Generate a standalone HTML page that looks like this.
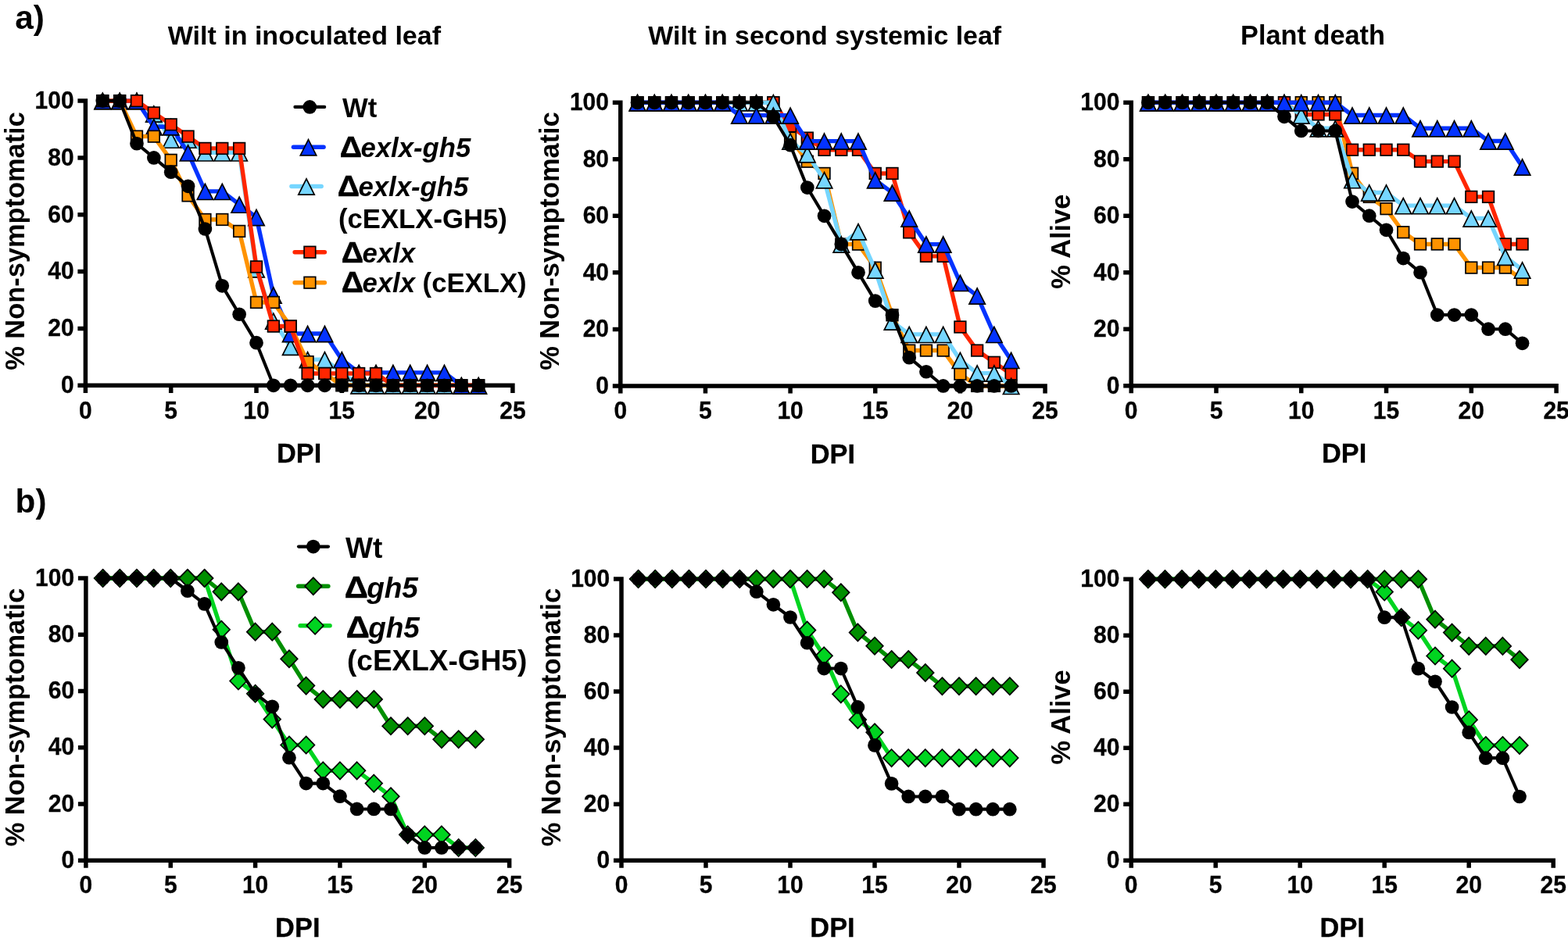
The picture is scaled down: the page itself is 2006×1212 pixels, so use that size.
<!DOCTYPE html>
<html lang="en"><head><meta charset="utf-8"><title>Wilt and survival curves</title>
<style>html,body{margin:0;padding:0;background:#fff}body{width:2006px;height:1212px;overflow:hidden}svg{display:block}text{white-space:pre}</style>
</head><body>
<svg width="2006" height="1212" viewBox="0 0 2006 1212" font-family='"Liberation Sans", sans-serif' font-weight="700" fill="#000">
<g id="a1">
<path d="M109.4 126.35V502.9M99.4 493.3H658.65M99.4 420.46H109.4M99.4 347.62H109.4M99.4 274.78H109.4M99.4 201.94H109.4M99.4 129.1H109.4M218.7 493.3V502.9M328 493.3V502.9M437.3 493.3V502.9M546.6 493.3V502.9M655.9 493.3V502.9" fill="none" stroke="#000" stroke-width="5.5"/>
<text transform="translate(94.6 503.1) scale(1 1.02)" font-size="30" text-anchor="end" stroke="#000" stroke-width="0.3">0</text>
<text transform="translate(94.6 430.26) scale(1 1.02)" font-size="30" text-anchor="end" stroke="#000" stroke-width="0.3">20</text>
<text transform="translate(94.6 357.42) scale(1 1.02)" font-size="30" text-anchor="end" stroke="#000" stroke-width="0.3">40</text>
<text transform="translate(94.6 284.58) scale(1 1.02)" font-size="30" text-anchor="end" stroke="#000" stroke-width="0.3">60</text>
<text transform="translate(94.6 211.74) scale(1 1.02)" font-size="30" text-anchor="end" stroke="#000" stroke-width="0.3">80</text>
<text transform="translate(94.6 138.9) scale(1 1.02)" font-size="30" text-anchor="end" stroke="#000" stroke-width="0.3">100</text>
<text transform="translate(109.4 535.7) scale(1 1.02)" font-size="30" text-anchor="middle" stroke="#000" stroke-width="0.3">0</text>
<text transform="translate(218.7 535.7) scale(1 1.02)" font-size="30" text-anchor="middle" stroke="#000" stroke-width="0.3">5</text>
<text transform="translate(328 535.7) scale(1 1.02)" font-size="30" text-anchor="middle" stroke="#000" stroke-width="0.3">10</text>
<text transform="translate(437.3 535.7) scale(1 1.02)" font-size="30" text-anchor="middle" stroke="#000" stroke-width="0.3">15</text>
<text transform="translate(546.6 535.7) scale(1 1.02)" font-size="30" text-anchor="middle" stroke="#000" stroke-width="0.3">20</text>
<text transform="translate(655.9 535.7) scale(1 1.02)" font-size="30" text-anchor="middle" stroke="#000" stroke-width="0.3">25</text>
<text transform="translate(382.65 591.9) scale(1 1.04)" font-size="34.4" text-anchor="middle" stroke="#000" stroke-width="0.3">DPI</text>
<text transform="translate(31 308.5) rotate(-90)" font-size="34.4" text-anchor="middle">% Non-symptomatic</text>
<g><polyline points="131.26,129.1 153.12,129.1 174.98,129.1 196.84,145.49 218.7,178.63 240.56,178.63 262.42,195.38 284.28,195.38 306.14,195.38 328,344.34 349.86,410.63 371.72,443.77 393.58,460.16 415.44,460.16 437.3,476.91 459.16,493.3 481.02,493.3 502.88,493.3 524.74,493.3 546.6,493.3 568.46,493.3 590.32,493.3 612.18,493.3" fill="none" stroke="#76D6FF" stroke-width="5.4" stroke-linejoin="round" stroke-linecap="round"/>
<path d="M131.26 119.5L141.46 139.7L121.06 139.7Z" fill="#76D6FF" stroke="#000" stroke-width="1.7"/>
<path d="M153.12 119.5L163.32 139.7L142.92 139.7Z" fill="#76D6FF" stroke="#000" stroke-width="1.7"/>
<path d="M174.98 119.5L185.18 139.7L164.78 139.7Z" fill="#76D6FF" stroke="#000" stroke-width="1.7"/>
<path d="M196.84 135.89L207.04 156.09L186.64 156.09Z" fill="#76D6FF" stroke="#000" stroke-width="1.7"/>
<path d="M218.7 169.03L228.9 189.23L208.5 189.23Z" fill="#76D6FF" stroke="#000" stroke-width="1.7"/>
<path d="M240.56 169.03L250.76 189.23L230.36 189.23Z" fill="#76D6FF" stroke="#000" stroke-width="1.7"/>
<path d="M262.42 185.78L272.62 205.98L252.22 205.98Z" fill="#76D6FF" stroke="#000" stroke-width="1.7"/>
<path d="M284.28 185.78L294.48 205.98L274.08 205.98Z" fill="#76D6FF" stroke="#000" stroke-width="1.7"/>
<path d="M306.14 185.78L316.34 205.98L295.94 205.98Z" fill="#76D6FF" stroke="#000" stroke-width="1.7"/>
<path d="M328 334.74L338.2 354.94L317.8 354.94Z" fill="#76D6FF" stroke="#000" stroke-width="1.7"/>
<path d="M349.86 401.03L360.06 421.23L339.66 421.23Z" fill="#76D6FF" stroke="#000" stroke-width="1.7"/>
<path d="M371.72 434.17L381.92 454.37L361.52 454.37Z" fill="#76D6FF" stroke="#000" stroke-width="1.7"/>
<path d="M393.58 450.56L403.78 470.76L383.38 470.76Z" fill="#76D6FF" stroke="#000" stroke-width="1.7"/>
<path d="M415.44 450.56L425.64 470.76L405.24 470.76Z" fill="#76D6FF" stroke="#000" stroke-width="1.7"/>
<path d="M437.3 467.31L447.5 487.51L427.1 487.51Z" fill="#76D6FF" stroke="#000" stroke-width="1.7"/>
<path d="M459.16 483.7L469.36 503.9L448.96 503.9Z" fill="#76D6FF" stroke="#000" stroke-width="1.7"/>
<path d="M481.02 483.7L491.22 503.9L470.82 503.9Z" fill="#76D6FF" stroke="#000" stroke-width="1.7"/>
<path d="M502.88 483.7L513.08 503.9L492.68 503.9Z" fill="#76D6FF" stroke="#000" stroke-width="1.7"/>
<path d="M524.74 483.7L534.94 503.9L514.54 503.9Z" fill="#76D6FF" stroke="#000" stroke-width="1.7"/>
<path d="M546.6 483.7L556.8 503.9L536.4 503.9Z" fill="#76D6FF" stroke="#000" stroke-width="1.7"/>
<path d="M568.46 483.7L578.66 503.9L558.26 503.9Z" fill="#76D6FF" stroke="#000" stroke-width="1.7"/>
<path d="M590.32 483.7L600.52 503.9L580.12 503.9Z" fill="#76D6FF" stroke="#000" stroke-width="1.7"/>
<path d="M612.18 483.7L622.38 503.9L601.98 503.9Z" fill="#76D6FF" stroke="#000" stroke-width="1.7"/>
</g>
<g><polyline points="131.26,129.1 153.12,129.1 174.98,129.1 196.84,162.24 218.7,162.24 240.56,195.38 262.42,244.92 284.28,244.92 306.14,261.67 328,278.06 349.86,377.48 371.72,427.02 393.58,427.02 415.44,427.02 437.3,460.16 459.16,476.91 481.02,476.91 502.88,476.91 524.74,476.91 546.6,476.91 568.46,476.91 590.32,493.3 612.18,493.3" fill="none" stroke="#0433FF" stroke-width="5.4" stroke-linejoin="round" stroke-linecap="round"/>
<path d="M131.26 119.5L141.46 139.7L121.06 139.7Z" fill="#0433FF" stroke="#000" stroke-width="1.7"/>
<path d="M153.12 119.5L163.32 139.7L142.92 139.7Z" fill="#0433FF" stroke="#000" stroke-width="1.7"/>
<path d="M174.98 119.5L185.18 139.7L164.78 139.7Z" fill="#0433FF" stroke="#000" stroke-width="1.7"/>
<path d="M196.84 152.64L207.04 172.84L186.64 172.84Z" fill="#0433FF" stroke="#000" stroke-width="1.7"/>
<path d="M218.7 152.64L228.9 172.84L208.5 172.84Z" fill="#0433FF" stroke="#000" stroke-width="1.7"/>
<path d="M240.56 185.78L250.76 205.98L230.36 205.98Z" fill="#0433FF" stroke="#000" stroke-width="1.7"/>
<path d="M262.42 235.32L272.62 255.52L252.22 255.52Z" fill="#0433FF" stroke="#000" stroke-width="1.7"/>
<path d="M284.28 235.32L294.48 255.52L274.08 255.52Z" fill="#0433FF" stroke="#000" stroke-width="1.7"/>
<path d="M306.14 252.07L316.34 272.27L295.94 272.27Z" fill="#0433FF" stroke="#000" stroke-width="1.7"/>
<path d="M328 268.46L338.2 288.66L317.8 288.66Z" fill="#0433FF" stroke="#000" stroke-width="1.7"/>
<path d="M349.86 367.88L360.06 388.08L339.66 388.08Z" fill="#0433FF" stroke="#000" stroke-width="1.7"/>
<path d="M371.72 417.42L381.92 437.62L361.52 437.62Z" fill="#0433FF" stroke="#000" stroke-width="1.7"/>
<path d="M393.58 417.42L403.78 437.62L383.38 437.62Z" fill="#0433FF" stroke="#000" stroke-width="1.7"/>
<path d="M415.44 417.42L425.64 437.62L405.24 437.62Z" fill="#0433FF" stroke="#000" stroke-width="1.7"/>
<path d="M437.3 450.56L447.5 470.76L427.1 470.76Z" fill="#0433FF" stroke="#000" stroke-width="1.7"/>
<path d="M459.16 467.31L469.36 487.51L448.96 487.51Z" fill="#0433FF" stroke="#000" stroke-width="1.7"/>
<path d="M481.02 467.31L491.22 487.51L470.82 487.51Z" fill="#0433FF" stroke="#000" stroke-width="1.7"/>
<path d="M502.88 467.31L513.08 487.51L492.68 487.51Z" fill="#0433FF" stroke="#000" stroke-width="1.7"/>
<path d="M524.74 467.31L534.94 487.51L514.54 487.51Z" fill="#0433FF" stroke="#000" stroke-width="1.7"/>
<path d="M546.6 467.31L556.8 487.51L536.4 487.51Z" fill="#0433FF" stroke="#000" stroke-width="1.7"/>
<path d="M568.46 467.31L578.66 487.51L558.26 487.51Z" fill="#0433FF" stroke="#000" stroke-width="1.7"/>
<path d="M590.32 483.7L600.52 503.9L580.12 503.9Z" fill="#0433FF" stroke="#000" stroke-width="1.7"/>
<path d="M612.18 483.7L622.38 503.9L601.98 503.9Z" fill="#0433FF" stroke="#000" stroke-width="1.7"/>
</g>
<g><polyline points="131.26,129.1 153.12,129.1 174.98,174.62 196.84,174.62 218.7,204.85 240.56,250.38 262.42,280.97 284.28,280.97 306.14,295.9 328,386.95 349.86,386.95 371.72,417.55 393.58,463.07 415.44,478 437.3,493.3 459.16,493.3 481.02,493.3 502.88,493.3 524.74,493.3 546.6,493.3 568.46,493.3 590.32,493.3 612.18,493.3" fill="none" stroke="#FF9300" stroke-width="5.4" stroke-linejoin="round" stroke-linecap="round"/>
<rect x="123.96" y="121.8" width="14.6" height="14.6" fill="#FF9300" stroke="#000" stroke-width="1.7"/>
<rect x="145.82" y="121.8" width="14.6" height="14.6" fill="#FF9300" stroke="#000" stroke-width="1.7"/>
<rect x="167.68" y="167.32" width="14.6" height="14.6" fill="#FF9300" stroke="#000" stroke-width="1.7"/>
<rect x="189.54" y="167.32" width="14.6" height="14.6" fill="#FF9300" stroke="#000" stroke-width="1.7"/>
<rect x="211.4" y="197.55" width="14.6" height="14.6" fill="#FF9300" stroke="#000" stroke-width="1.7"/>
<rect x="233.26" y="243.08" width="14.6" height="14.6" fill="#FF9300" stroke="#000" stroke-width="1.7"/>
<rect x="255.12" y="273.67" width="14.6" height="14.6" fill="#FF9300" stroke="#000" stroke-width="1.7"/>
<rect x="276.98" y="273.67" width="14.6" height="14.6" fill="#FF9300" stroke="#000" stroke-width="1.7"/>
<rect x="298.84" y="288.6" width="14.6" height="14.6" fill="#FF9300" stroke="#000" stroke-width="1.7"/>
<rect x="320.7" y="379.65" width="14.6" height="14.6" fill="#FF9300" stroke="#000" stroke-width="1.7"/>
<rect x="342.56" y="379.65" width="14.6" height="14.6" fill="#FF9300" stroke="#000" stroke-width="1.7"/>
<rect x="364.42" y="410.25" width="14.6" height="14.6" fill="#FF9300" stroke="#000" stroke-width="1.7"/>
<rect x="386.28" y="455.77" width="14.6" height="14.6" fill="#FF9300" stroke="#000" stroke-width="1.7"/>
<rect x="408.14" y="470.7" width="14.6" height="14.6" fill="#FF9300" stroke="#000" stroke-width="1.7"/>
<rect x="430" y="486" width="14.6" height="14.6" fill="#FF9300" stroke="#000" stroke-width="1.7"/>
<rect x="451.86" y="486" width="14.6" height="14.6" fill="#FF9300" stroke="#000" stroke-width="1.7"/>
<rect x="473.72" y="486" width="14.6" height="14.6" fill="#FF9300" stroke="#000" stroke-width="1.7"/>
<rect x="495.58" y="486" width="14.6" height="14.6" fill="#FF9300" stroke="#000" stroke-width="1.7"/>
<rect x="517.44" y="486" width="14.6" height="14.6" fill="#FF9300" stroke="#000" stroke-width="1.7"/>
<rect x="539.3" y="486" width="14.6" height="14.6" fill="#FF9300" stroke="#000" stroke-width="1.7"/>
<rect x="561.16" y="486" width="14.6" height="14.6" fill="#FF9300" stroke="#000" stroke-width="1.7"/>
<rect x="583.02" y="486" width="14.6" height="14.6" fill="#FF9300" stroke="#000" stroke-width="1.7"/>
<rect x="604.88" y="486" width="14.6" height="14.6" fill="#FF9300" stroke="#000" stroke-width="1.7"/>
</g>
<g><polyline points="131.26,129.1 153.12,129.1 174.98,129.1 196.84,144.4 218.7,159.33 240.56,174.62 262.42,189.92 284.28,189.92 306.14,189.92 328,341.43 349.86,417.55 371.72,417.55 393.58,478 415.44,478 437.3,478 459.16,478 481.02,478 502.88,493.3 524.74,493.3 546.6,493.3 568.46,493.3 590.32,493.3 612.18,493.3" fill="none" stroke="#FF2600" stroke-width="5.4" stroke-linejoin="round" stroke-linecap="round"/>
<rect x="123.96" y="121.8" width="14.6" height="14.6" fill="#FF2600" stroke="#000" stroke-width="1.7"/>
<rect x="145.82" y="121.8" width="14.6" height="14.6" fill="#FF2600" stroke="#000" stroke-width="1.7"/>
<rect x="167.68" y="121.8" width="14.6" height="14.6" fill="#FF2600" stroke="#000" stroke-width="1.7"/>
<rect x="189.54" y="137.1" width="14.6" height="14.6" fill="#FF2600" stroke="#000" stroke-width="1.7"/>
<rect x="211.4" y="152.03" width="14.6" height="14.6" fill="#FF2600" stroke="#000" stroke-width="1.7"/>
<rect x="233.26" y="167.32" width="14.6" height="14.6" fill="#FF2600" stroke="#000" stroke-width="1.7"/>
<rect x="255.12" y="182.62" width="14.6" height="14.6" fill="#FF2600" stroke="#000" stroke-width="1.7"/>
<rect x="276.98" y="182.62" width="14.6" height="14.6" fill="#FF2600" stroke="#000" stroke-width="1.7"/>
<rect x="298.84" y="182.62" width="14.6" height="14.6" fill="#FF2600" stroke="#000" stroke-width="1.7"/>
<rect x="320.7" y="334.13" width="14.6" height="14.6" fill="#FF2600" stroke="#000" stroke-width="1.7"/>
<rect x="342.56" y="410.25" width="14.6" height="14.6" fill="#FF2600" stroke="#000" stroke-width="1.7"/>
<rect x="364.42" y="410.25" width="14.6" height="14.6" fill="#FF2600" stroke="#000" stroke-width="1.7"/>
<rect x="386.28" y="470.7" width="14.6" height="14.6" fill="#FF2600" stroke="#000" stroke-width="1.7"/>
<rect x="408.14" y="470.7" width="14.6" height="14.6" fill="#FF2600" stroke="#000" stroke-width="1.7"/>
<rect x="430" y="470.7" width="14.6" height="14.6" fill="#FF2600" stroke="#000" stroke-width="1.7"/>
<rect x="451.86" y="470.7" width="14.6" height="14.6" fill="#FF2600" stroke="#000" stroke-width="1.7"/>
<rect x="473.72" y="470.7" width="14.6" height="14.6" fill="#FF2600" stroke="#000" stroke-width="1.7"/>
<rect x="495.58" y="486" width="14.6" height="14.6" fill="#FF2600" stroke="#000" stroke-width="1.7"/>
<rect x="517.44" y="486" width="14.6" height="14.6" fill="#FF2600" stroke="#000" stroke-width="1.7"/>
<rect x="539.3" y="486" width="14.6" height="14.6" fill="#FF2600" stroke="#000" stroke-width="1.7"/>
<rect x="561.16" y="486" width="14.6" height="14.6" fill="#FF2600" stroke="#000" stroke-width="1.7"/>
<rect x="583.02" y="486" width="14.6" height="14.6" fill="#FF2600" stroke="#000" stroke-width="1.7"/>
<rect x="604.88" y="486" width="14.6" height="14.6" fill="#FF2600" stroke="#000" stroke-width="1.7"/>
</g>
<g><polyline points="131.26,129.1 153.12,129.1 174.98,183.73 196.84,201.94 218.7,220.15 240.56,238.36 262.42,292.99 284.28,365.83 306.14,402.25 328,438.67 349.86,493.3 371.72,493.3 393.58,493.3 415.44,493.3 437.3,493.3 459.16,493.3 481.02,493.3 502.88,493.3 524.74,493.3 546.6,493.3 568.46,493.3 590.32,493.3 612.18,493.3" fill="none" stroke="#000000" stroke-width="4.1" stroke-linejoin="round" stroke-linecap="round"/>
<circle cx="131.26" cy="129.1" r="8.85" fill="#000"/>
<circle cx="153.12" cy="129.1" r="8.85" fill="#000"/>
<circle cx="174.98" cy="183.73" r="8.85" fill="#000"/>
<circle cx="196.84" cy="201.94" r="8.85" fill="#000"/>
<circle cx="218.7" cy="220.15" r="8.85" fill="#000"/>
<circle cx="240.56" cy="238.36" r="8.85" fill="#000"/>
<circle cx="262.42" cy="292.99" r="8.85" fill="#000"/>
<circle cx="284.28" cy="365.83" r="8.85" fill="#000"/>
<circle cx="306.14" cy="402.25" r="8.85" fill="#000"/>
<circle cx="328" cy="438.67" r="8.85" fill="#000"/>
<circle cx="349.86" cy="493.3" r="8.85" fill="#000"/>
<circle cx="371.72" cy="493.3" r="8.85" fill="#000"/>
<circle cx="393.58" cy="493.3" r="8.85" fill="#000"/>
<circle cx="415.44" cy="493.3" r="8.85" fill="#000"/>
<circle cx="437.3" cy="493.3" r="8.85" fill="#000"/>
<circle cx="459.16" cy="493.3" r="8.85" fill="#000"/>
<circle cx="481.02" cy="493.3" r="8.85" fill="#000"/>
<circle cx="502.88" cy="493.3" r="8.85" fill="#000"/>
<circle cx="524.74" cy="493.3" r="8.85" fill="#000"/>
<circle cx="546.6" cy="493.3" r="8.85" fill="#000"/>
<circle cx="568.46" cy="493.3" r="8.85" fill="#000"/>
<circle cx="590.32" cy="493.3" r="8.85" fill="#000"/>
<circle cx="612.18" cy="493.3" r="8.85" fill="#000"/>
</g>
</g>
<g id="a2">
<path d="M793.8 128.55V503.5M783.8 493.9H1339.8M783.8 421.38H793.8M783.8 348.86H793.8M783.8 276.34H793.8M783.8 203.82H793.8M783.8 131.3H793.8M902.45 493.9V503.5M1011.1 493.9V503.5M1119.75 493.9V503.5M1228.4 493.9V503.5M1337.05 493.9V503.5" fill="none" stroke="#000" stroke-width="5.5"/>
<text transform="translate(779 503.7) scale(1 1.02)" font-size="30" text-anchor="end" stroke="#000" stroke-width="0.3">0</text>
<text transform="translate(779 431.18) scale(1 1.02)" font-size="30" text-anchor="end" stroke="#000" stroke-width="0.3">20</text>
<text transform="translate(779 358.66) scale(1 1.02)" font-size="30" text-anchor="end" stroke="#000" stroke-width="0.3">40</text>
<text transform="translate(779 286.14) scale(1 1.02)" font-size="30" text-anchor="end" stroke="#000" stroke-width="0.3">60</text>
<text transform="translate(779 213.62) scale(1 1.02)" font-size="30" text-anchor="end" stroke="#000" stroke-width="0.3">80</text>
<text transform="translate(779 141.1) scale(1 1.02)" font-size="30" text-anchor="end" stroke="#000" stroke-width="0.3">100</text>
<text transform="translate(793.8 536.3) scale(1 1.02)" font-size="30" text-anchor="middle" stroke="#000" stroke-width="0.3">0</text>
<text transform="translate(902.45 536.3) scale(1 1.02)" font-size="30" text-anchor="middle" stroke="#000" stroke-width="0.3">5</text>
<text transform="translate(1011.1 536.3) scale(1 1.02)" font-size="30" text-anchor="middle" stroke="#000" stroke-width="0.3">10</text>
<text transform="translate(1119.75 536.3) scale(1 1.02)" font-size="30" text-anchor="middle" stroke="#000" stroke-width="0.3">15</text>
<text transform="translate(1228.4 536.3) scale(1 1.02)" font-size="30" text-anchor="middle" stroke="#000" stroke-width="0.3">20</text>
<text transform="translate(1337.05 536.3) scale(1 1.02)" font-size="30" text-anchor="middle" stroke="#000" stroke-width="0.3">25</text>
<text transform="translate(1065.42 592.5) scale(1 1.04)" font-size="34.4" text-anchor="middle" stroke="#000" stroke-width="0.3">DPI</text>
<text transform="translate(715.4 308.5) rotate(-90)" font-size="34.4" text-anchor="middle">% Non-symptomatic</text>
<g><polyline points="815.53,131.3 837.26,131.3 858.99,131.3 880.72,131.3 902.45,131.3 924.18,131.3 945.91,131.3 967.64,131.3 989.37,131.3 1011.1,176.62 1032.83,206.72 1054.56,221.95 1076.29,312.6 1098.02,312.6 1119.75,342.7 1141.48,403.25 1163.21,448.57 1184.94,448.57 1206.67,448.57 1228.4,478.67 1250.13,493.9 1271.86,493.9 1293.59,493.9" fill="none" stroke="#FF9300" stroke-width="5.4" stroke-linejoin="round" stroke-linecap="round"/>
<rect x="808.23" y="124" width="14.6" height="14.6" fill="#FF9300" stroke="#000" stroke-width="1.7"/>
<rect x="829.96" y="124" width="14.6" height="14.6" fill="#FF9300" stroke="#000" stroke-width="1.7"/>
<rect x="851.69" y="124" width="14.6" height="14.6" fill="#FF9300" stroke="#000" stroke-width="1.7"/>
<rect x="873.42" y="124" width="14.6" height="14.6" fill="#FF9300" stroke="#000" stroke-width="1.7"/>
<rect x="895.15" y="124" width="14.6" height="14.6" fill="#FF9300" stroke="#000" stroke-width="1.7"/>
<rect x="916.88" y="124" width="14.6" height="14.6" fill="#FF9300" stroke="#000" stroke-width="1.7"/>
<rect x="938.61" y="124" width="14.6" height="14.6" fill="#FF9300" stroke="#000" stroke-width="1.7"/>
<rect x="960.34" y="124" width="14.6" height="14.6" fill="#FF9300" stroke="#000" stroke-width="1.7"/>
<rect x="982.07" y="124" width="14.6" height="14.6" fill="#FF9300" stroke="#000" stroke-width="1.7"/>
<rect x="1003.8" y="169.32" width="14.6" height="14.6" fill="#FF9300" stroke="#000" stroke-width="1.7"/>
<rect x="1025.53" y="199.42" width="14.6" height="14.6" fill="#FF9300" stroke="#000" stroke-width="1.7"/>
<rect x="1047.26" y="214.65" width="14.6" height="14.6" fill="#FF9300" stroke="#000" stroke-width="1.7"/>
<rect x="1068.99" y="305.3" width="14.6" height="14.6" fill="#FF9300" stroke="#000" stroke-width="1.7"/>
<rect x="1090.72" y="305.3" width="14.6" height="14.6" fill="#FF9300" stroke="#000" stroke-width="1.7"/>
<rect x="1112.45" y="335.4" width="14.6" height="14.6" fill="#FF9300" stroke="#000" stroke-width="1.7"/>
<rect x="1134.18" y="395.95" width="14.6" height="14.6" fill="#FF9300" stroke="#000" stroke-width="1.7"/>
<rect x="1155.91" y="441.27" width="14.6" height="14.6" fill="#FF9300" stroke="#000" stroke-width="1.7"/>
<rect x="1177.64" y="441.27" width="14.6" height="14.6" fill="#FF9300" stroke="#000" stroke-width="1.7"/>
<rect x="1199.37" y="441.27" width="14.6" height="14.6" fill="#FF9300" stroke="#000" stroke-width="1.7"/>
<rect x="1221.1" y="471.37" width="14.6" height="14.6" fill="#FF9300" stroke="#000" stroke-width="1.7"/>
<rect x="1242.83" y="486.6" width="14.6" height="14.6" fill="#FF9300" stroke="#000" stroke-width="1.7"/>
<rect x="1264.56" y="486.6" width="14.6" height="14.6" fill="#FF9300" stroke="#000" stroke-width="1.7"/>
<rect x="1286.29" y="486.6" width="14.6" height="14.6" fill="#FF9300" stroke="#000" stroke-width="1.7"/>
</g>
<g><polyline points="815.53,131.3 837.26,131.3 858.99,131.3 880.72,131.3 902.45,131.3 924.18,131.3 945.91,131.3 967.64,131.3 989.37,131.3 1011.1,161.4 1032.83,176.62 1054.56,191.85 1076.29,191.85 1098.02,191.85 1119.75,221.95 1141.48,221.95 1163.21,297.37 1184.94,327.83 1206.67,327.83 1228.4,418.48 1250.13,448.57 1271.86,463.8 1293.59,478.67" fill="none" stroke="#FF2600" stroke-width="5.4" stroke-linejoin="round" stroke-linecap="round"/>
<rect x="808.23" y="124" width="14.6" height="14.6" fill="#FF2600" stroke="#000" stroke-width="1.7"/>
<rect x="829.96" y="124" width="14.6" height="14.6" fill="#FF2600" stroke="#000" stroke-width="1.7"/>
<rect x="851.69" y="124" width="14.6" height="14.6" fill="#FF2600" stroke="#000" stroke-width="1.7"/>
<rect x="873.42" y="124" width="14.6" height="14.6" fill="#FF2600" stroke="#000" stroke-width="1.7"/>
<rect x="895.15" y="124" width="14.6" height="14.6" fill="#FF2600" stroke="#000" stroke-width="1.7"/>
<rect x="916.88" y="124" width="14.6" height="14.6" fill="#FF2600" stroke="#000" stroke-width="1.7"/>
<rect x="938.61" y="124" width="14.6" height="14.6" fill="#FF2600" stroke="#000" stroke-width="1.7"/>
<rect x="960.34" y="124" width="14.6" height="14.6" fill="#FF2600" stroke="#000" stroke-width="1.7"/>
<rect x="982.07" y="124" width="14.6" height="14.6" fill="#FF2600" stroke="#000" stroke-width="1.7"/>
<rect x="1003.8" y="154.1" width="14.6" height="14.6" fill="#FF2600" stroke="#000" stroke-width="1.7"/>
<rect x="1025.53" y="169.32" width="14.6" height="14.6" fill="#FF2600" stroke="#000" stroke-width="1.7"/>
<rect x="1047.26" y="184.55" width="14.6" height="14.6" fill="#FF2600" stroke="#000" stroke-width="1.7"/>
<rect x="1068.99" y="184.55" width="14.6" height="14.6" fill="#FF2600" stroke="#000" stroke-width="1.7"/>
<rect x="1090.72" y="184.55" width="14.6" height="14.6" fill="#FF2600" stroke="#000" stroke-width="1.7"/>
<rect x="1112.45" y="214.65" width="14.6" height="14.6" fill="#FF2600" stroke="#000" stroke-width="1.7"/>
<rect x="1134.18" y="214.65" width="14.6" height="14.6" fill="#FF2600" stroke="#000" stroke-width="1.7"/>
<rect x="1155.91" y="290.07" width="14.6" height="14.6" fill="#FF2600" stroke="#000" stroke-width="1.7"/>
<rect x="1177.64" y="320.53" width="14.6" height="14.6" fill="#FF2600" stroke="#000" stroke-width="1.7"/>
<rect x="1199.37" y="320.53" width="14.6" height="14.6" fill="#FF2600" stroke="#000" stroke-width="1.7"/>
<rect x="1221.1" y="411.18" width="14.6" height="14.6" fill="#FF2600" stroke="#000" stroke-width="1.7"/>
<rect x="1242.83" y="441.27" width="14.6" height="14.6" fill="#FF2600" stroke="#000" stroke-width="1.7"/>
<rect x="1264.56" y="456.5" width="14.6" height="14.6" fill="#FF2600" stroke="#000" stroke-width="1.7"/>
<rect x="1286.29" y="471.37" width="14.6" height="14.6" fill="#FF2600" stroke="#000" stroke-width="1.7"/>
</g>
<g><polyline points="815.53,131.3 837.26,131.3 858.99,131.3 880.72,131.3 902.45,131.3 924.18,131.3 945.91,131.3 967.64,131.3 989.37,131.3 1011.1,180.61 1032.83,197.29 1054.56,230.29 1076.29,312.6 1098.02,296.28 1119.75,345.6 1141.48,411.59 1163.21,427.91 1184.94,427.91 1206.67,427.91 1228.4,460.9 1250.13,477.58 1271.86,477.58 1293.59,493.9" fill="none" stroke="#76D6FF" stroke-width="5.4" stroke-linejoin="round" stroke-linecap="round"/>
<path d="M815.53 121.7L825.73 141.9L805.33 141.9Z" fill="#76D6FF" stroke="#000" stroke-width="1.7"/>
<path d="M837.26 121.7L847.46 141.9L827.06 141.9Z" fill="#76D6FF" stroke="#000" stroke-width="1.7"/>
<path d="M858.99 121.7L869.19 141.9L848.79 141.9Z" fill="#76D6FF" stroke="#000" stroke-width="1.7"/>
<path d="M880.72 121.7L890.92 141.9L870.52 141.9Z" fill="#76D6FF" stroke="#000" stroke-width="1.7"/>
<path d="M902.45 121.7L912.65 141.9L892.25 141.9Z" fill="#76D6FF" stroke="#000" stroke-width="1.7"/>
<path d="M924.18 121.7L934.38 141.9L913.98 141.9Z" fill="#76D6FF" stroke="#000" stroke-width="1.7"/>
<path d="M945.91 121.7L956.11 141.9L935.71 141.9Z" fill="#76D6FF" stroke="#000" stroke-width="1.7"/>
<path d="M967.64 121.7L977.84 141.9L957.44 141.9Z" fill="#76D6FF" stroke="#000" stroke-width="1.7"/>
<path d="M989.37 121.7L999.57 141.9L979.17 141.9Z" fill="#76D6FF" stroke="#000" stroke-width="1.7"/>
<path d="M1011.1 171.01L1021.3 191.21L1000.9 191.21Z" fill="#76D6FF" stroke="#000" stroke-width="1.7"/>
<path d="M1032.83 187.69L1043.03 207.89L1022.63 207.89Z" fill="#76D6FF" stroke="#000" stroke-width="1.7"/>
<path d="M1054.56 220.69L1064.76 240.89L1044.36 240.89Z" fill="#76D6FF" stroke="#000" stroke-width="1.7"/>
<path d="M1076.29 303L1086.49 323.2L1066.09 323.2Z" fill="#76D6FF" stroke="#000" stroke-width="1.7"/>
<path d="M1098.02 286.68L1108.22 306.88L1087.82 306.88Z" fill="#76D6FF" stroke="#000" stroke-width="1.7"/>
<path d="M1119.75 336L1129.95 356.2L1109.55 356.2Z" fill="#76D6FF" stroke="#000" stroke-width="1.7"/>
<path d="M1141.48 401.99L1151.68 422.19L1131.28 422.19Z" fill="#76D6FF" stroke="#000" stroke-width="1.7"/>
<path d="M1163.21 418.31L1173.41 438.51L1153.01 438.51Z" fill="#76D6FF" stroke="#000" stroke-width="1.7"/>
<path d="M1184.94 418.31L1195.14 438.51L1174.74 438.51Z" fill="#76D6FF" stroke="#000" stroke-width="1.7"/>
<path d="M1206.67 418.31L1216.87 438.51L1196.47 438.51Z" fill="#76D6FF" stroke="#000" stroke-width="1.7"/>
<path d="M1228.4 451.3L1238.6 471.5L1218.2 471.5Z" fill="#76D6FF" stroke="#000" stroke-width="1.7"/>
<path d="M1250.13 467.98L1260.33 488.18L1239.93 488.18Z" fill="#76D6FF" stroke="#000" stroke-width="1.7"/>
<path d="M1271.86 467.98L1282.06 488.18L1261.66 488.18Z" fill="#76D6FF" stroke="#000" stroke-width="1.7"/>
<path d="M1293.59 484.3L1303.79 504.5L1283.39 504.5Z" fill="#76D6FF" stroke="#000" stroke-width="1.7"/>
</g>
<g><polyline points="815.53,131.3 837.26,131.3 858.99,131.3 880.72,131.3 902.45,131.3 924.18,131.3 945.91,147.62 967.64,147.62 989.37,147.62 1011.1,147.62 1032.83,180.61 1054.56,180.61 1076.29,180.61 1098.02,180.61 1119.75,230.29 1141.48,246.61 1163.21,279.6 1184.94,312.6 1206.67,312.6 1228.4,361.91 1250.13,378.59 1271.86,427.91 1293.59,460.9" fill="none" stroke="#0433FF" stroke-width="5.4" stroke-linejoin="round" stroke-linecap="round"/>
<path d="M815.53 121.7L825.73 141.9L805.33 141.9Z" fill="#0433FF" stroke="#000" stroke-width="1.7"/>
<path d="M837.26 121.7L847.46 141.9L827.06 141.9Z" fill="#0433FF" stroke="#000" stroke-width="1.7"/>
<path d="M858.99 121.7L869.19 141.9L848.79 141.9Z" fill="#0433FF" stroke="#000" stroke-width="1.7"/>
<path d="M880.72 121.7L890.92 141.9L870.52 141.9Z" fill="#0433FF" stroke="#000" stroke-width="1.7"/>
<path d="M902.45 121.7L912.65 141.9L892.25 141.9Z" fill="#0433FF" stroke="#000" stroke-width="1.7"/>
<path d="M924.18 121.7L934.38 141.9L913.98 141.9Z" fill="#0433FF" stroke="#000" stroke-width="1.7"/>
<path d="M945.91 138.02L956.11 158.22L935.71 158.22Z" fill="#0433FF" stroke="#000" stroke-width="1.7"/>
<path d="M967.64 138.02L977.84 158.22L957.44 158.22Z" fill="#0433FF" stroke="#000" stroke-width="1.7"/>
<path d="M989.37 138.02L999.57 158.22L979.17 158.22Z" fill="#0433FF" stroke="#000" stroke-width="1.7"/>
<path d="M1011.1 138.02L1021.3 158.22L1000.9 158.22Z" fill="#0433FF" stroke="#000" stroke-width="1.7"/>
<path d="M1032.83 171.01L1043.03 191.21L1022.63 191.21Z" fill="#0433FF" stroke="#000" stroke-width="1.7"/>
<path d="M1054.56 171.01L1064.76 191.21L1044.36 191.21Z" fill="#0433FF" stroke="#000" stroke-width="1.7"/>
<path d="M1076.29 171.01L1086.49 191.21L1066.09 191.21Z" fill="#0433FF" stroke="#000" stroke-width="1.7"/>
<path d="M1098.02 171.01L1108.22 191.21L1087.82 191.21Z" fill="#0433FF" stroke="#000" stroke-width="1.7"/>
<path d="M1119.75 220.69L1129.95 240.89L1109.55 240.89Z" fill="#0433FF" stroke="#000" stroke-width="1.7"/>
<path d="M1141.48 237.01L1151.68 257.21L1131.28 257.21Z" fill="#0433FF" stroke="#000" stroke-width="1.7"/>
<path d="M1163.21 270L1173.41 290.2L1153.01 290.2Z" fill="#0433FF" stroke="#000" stroke-width="1.7"/>
<path d="M1184.94 303L1195.14 323.2L1174.74 323.2Z" fill="#0433FF" stroke="#000" stroke-width="1.7"/>
<path d="M1206.67 303L1216.87 323.2L1196.47 323.2Z" fill="#0433FF" stroke="#000" stroke-width="1.7"/>
<path d="M1228.4 352.31L1238.6 372.51L1218.2 372.51Z" fill="#0433FF" stroke="#000" stroke-width="1.7"/>
<path d="M1250.13 368.99L1260.33 389.19L1239.93 389.19Z" fill="#0433FF" stroke="#000" stroke-width="1.7"/>
<path d="M1271.86 418.31L1282.06 438.51L1261.66 438.51Z" fill="#0433FF" stroke="#000" stroke-width="1.7"/>
<path d="M1293.59 451.3L1303.79 471.5L1283.39 471.5Z" fill="#0433FF" stroke="#000" stroke-width="1.7"/>
</g>
<g><polyline points="815.53,131.3 837.26,131.3 858.99,131.3 880.72,131.3 902.45,131.3 924.18,131.3 945.91,131.3 967.64,131.3 989.37,149.43 1011.1,185.69 1032.83,240.08 1054.56,276.34 1076.29,312.6 1098.02,348.86 1119.75,385.12 1141.48,403.25 1163.21,457.64 1184.94,475.77 1206.67,493.9 1228.4,493.9 1250.13,493.9 1271.86,493.9 1293.59,493.9" fill="none" stroke="#000000" stroke-width="4.1" stroke-linejoin="round" stroke-linecap="round"/>
<circle cx="815.53" cy="131.3" r="8.85" fill="#000"/>
<circle cx="837.26" cy="131.3" r="8.85" fill="#000"/>
<circle cx="858.99" cy="131.3" r="8.85" fill="#000"/>
<circle cx="880.72" cy="131.3" r="8.85" fill="#000"/>
<circle cx="902.45" cy="131.3" r="8.85" fill="#000"/>
<circle cx="924.18" cy="131.3" r="8.85" fill="#000"/>
<circle cx="945.91" cy="131.3" r="8.85" fill="#000"/>
<circle cx="967.64" cy="131.3" r="8.85" fill="#000"/>
<circle cx="989.37" cy="149.43" r="8.85" fill="#000"/>
<circle cx="1011.1" cy="185.69" r="8.85" fill="#000"/>
<circle cx="1032.83" cy="240.08" r="8.85" fill="#000"/>
<circle cx="1054.56" cy="276.34" r="8.85" fill="#000"/>
<circle cx="1076.29" cy="312.6" r="8.85" fill="#000"/>
<circle cx="1098.02" cy="348.86" r="8.85" fill="#000"/>
<circle cx="1119.75" cy="385.12" r="8.85" fill="#000"/>
<circle cx="1141.48" cy="403.25" r="8.85" fill="#000"/>
<circle cx="1163.21" cy="457.64" r="8.85" fill="#000"/>
<circle cx="1184.94" cy="475.77" r="8.85" fill="#000"/>
<circle cx="1206.67" cy="493.9" r="8.85" fill="#000"/>
<circle cx="1228.4" cy="493.9" r="8.85" fill="#000"/>
<circle cx="1250.13" cy="493.9" r="8.85" fill="#000"/>
<circle cx="1271.86" cy="493.9" r="8.85" fill="#000"/>
<circle cx="1293.59" cy="493.9" r="8.85" fill="#000"/>
</g>
</g>
<g id="a3">
<path d="M1447.2 128.45V503.3M1437.2 493.7H1993.83M1437.2 421.2H1447.2M1437.2 348.7H1447.2M1437.2 276.2H1447.2M1437.2 203.7H1447.2M1437.2 131.2H1447.2M1555.98 493.7V503.3M1664.75 493.7V503.3M1773.53 493.7V503.3M1882.3 493.7V503.3M1991.08 493.7V503.3" fill="none" stroke="#000" stroke-width="5.5"/>
<text transform="translate(1432.4 503.5) scale(1 1.02)" font-size="30" text-anchor="end" stroke="#000" stroke-width="0.3">0</text>
<text transform="translate(1432.4 431) scale(1 1.02)" font-size="30" text-anchor="end" stroke="#000" stroke-width="0.3">20</text>
<text transform="translate(1432.4 358.5) scale(1 1.02)" font-size="30" text-anchor="end" stroke="#000" stroke-width="0.3">40</text>
<text transform="translate(1432.4 286) scale(1 1.02)" font-size="30" text-anchor="end" stroke="#000" stroke-width="0.3">60</text>
<text transform="translate(1432.4 213.5) scale(1 1.02)" font-size="30" text-anchor="end" stroke="#000" stroke-width="0.3">80</text>
<text transform="translate(1432.4 141) scale(1 1.02)" font-size="30" text-anchor="end" stroke="#000" stroke-width="0.3">100</text>
<text transform="translate(1447.2 536.1) scale(1 1.02)" font-size="30" text-anchor="middle" stroke="#000" stroke-width="0.3">0</text>
<text transform="translate(1555.98 536.1) scale(1 1.02)" font-size="30" text-anchor="middle" stroke="#000" stroke-width="0.3">5</text>
<text transform="translate(1664.75 536.1) scale(1 1.02)" font-size="30" text-anchor="middle" stroke="#000" stroke-width="0.3">10</text>
<text transform="translate(1773.53 536.1) scale(1 1.02)" font-size="30" text-anchor="middle" stroke="#000" stroke-width="0.3">15</text>
<text transform="translate(1882.3 536.1) scale(1 1.02)" font-size="30" text-anchor="middle" stroke="#000" stroke-width="0.3">20</text>
<text transform="translate(1991.08 536.1) scale(1 1.02)" font-size="30" text-anchor="middle" stroke="#000" stroke-width="0.3">25</text>
<text transform="translate(1719.64 592.3) scale(1 1.04)" font-size="34.4" text-anchor="middle" stroke="#000" stroke-width="0.3">DPI</text>
<text transform="translate(1368.8 309.1) rotate(-90)" font-size="34.4" text-anchor="middle">% Alive</text>
<g><polyline points="1468.96,131.2 1490.71,131.2 1512.47,131.2 1534.22,131.2 1555.98,131.2 1577.73,131.2 1599.49,131.2 1621.24,131.2 1643,131.2 1664.75,131.2 1686.51,131.2 1708.26,131.2 1730.02,221.82 1751.77,251.91 1773.53,267.14 1795.28,297.22 1817.04,312.45 1838.79,312.45 1860.55,312.45 1882.3,342.54 1904.06,342.54 1925.81,342.54 1947.57,357.76" fill="none" stroke="#FF9300" stroke-width="5.4" stroke-linejoin="round" stroke-linecap="round"/>
<rect x="1461.66" y="123.9" width="14.6" height="14.6" fill="#FF9300" stroke="#000" stroke-width="1.7"/>
<rect x="1483.41" y="123.9" width="14.6" height="14.6" fill="#FF9300" stroke="#000" stroke-width="1.7"/>
<rect x="1505.17" y="123.9" width="14.6" height="14.6" fill="#FF9300" stroke="#000" stroke-width="1.7"/>
<rect x="1526.92" y="123.9" width="14.6" height="14.6" fill="#FF9300" stroke="#000" stroke-width="1.7"/>
<rect x="1548.68" y="123.9" width="14.6" height="14.6" fill="#FF9300" stroke="#000" stroke-width="1.7"/>
<rect x="1570.43" y="123.9" width="14.6" height="14.6" fill="#FF9300" stroke="#000" stroke-width="1.7"/>
<rect x="1592.19" y="123.9" width="14.6" height="14.6" fill="#FF9300" stroke="#000" stroke-width="1.7"/>
<rect x="1613.94" y="123.9" width="14.6" height="14.6" fill="#FF9300" stroke="#000" stroke-width="1.7"/>
<rect x="1635.7" y="123.9" width="14.6" height="14.6" fill="#FF9300" stroke="#000" stroke-width="1.7"/>
<rect x="1657.45" y="123.9" width="14.6" height="14.6" fill="#FF9300" stroke="#000" stroke-width="1.7"/>
<rect x="1679.21" y="123.9" width="14.6" height="14.6" fill="#FF9300" stroke="#000" stroke-width="1.7"/>
<rect x="1700.96" y="123.9" width="14.6" height="14.6" fill="#FF9300" stroke="#000" stroke-width="1.7"/>
<rect x="1722.72" y="214.52" width="14.6" height="14.6" fill="#FF9300" stroke="#000" stroke-width="1.7"/>
<rect x="1744.47" y="244.61" width="14.6" height="14.6" fill="#FF9300" stroke="#000" stroke-width="1.7"/>
<rect x="1766.23" y="259.84" width="14.6" height="14.6" fill="#FF9300" stroke="#000" stroke-width="1.7"/>
<rect x="1787.98" y="289.92" width="14.6" height="14.6" fill="#FF9300" stroke="#000" stroke-width="1.7"/>
<rect x="1809.74" y="305.15" width="14.6" height="14.6" fill="#FF9300" stroke="#000" stroke-width="1.7"/>
<rect x="1831.49" y="305.15" width="14.6" height="14.6" fill="#FF9300" stroke="#000" stroke-width="1.7"/>
<rect x="1853.25" y="305.15" width="14.6" height="14.6" fill="#FF9300" stroke="#000" stroke-width="1.7"/>
<rect x="1875" y="335.24" width="14.6" height="14.6" fill="#FF9300" stroke="#000" stroke-width="1.7"/>
<rect x="1896.76" y="335.24" width="14.6" height="14.6" fill="#FF9300" stroke="#000" stroke-width="1.7"/>
<rect x="1918.51" y="335.24" width="14.6" height="14.6" fill="#FF9300" stroke="#000" stroke-width="1.7"/>
<rect x="1940.27" y="350.46" width="14.6" height="14.6" fill="#FF9300" stroke="#000" stroke-width="1.7"/>
</g>
<g><polyline points="1468.96,131.2 1490.71,131.2 1512.47,131.2 1534.22,131.2 1555.98,131.2 1577.73,131.2 1599.49,131.2 1621.24,131.2 1643,131.2 1664.75,146.43 1686.51,146.43 1708.26,146.43 1730.02,191.74 1751.77,191.74 1773.53,191.74 1795.28,191.74 1817.04,206.6 1838.79,206.6 1860.55,206.6 1882.3,251.91 1904.06,251.91 1925.81,312.45 1947.57,312.45" fill="none" stroke="#FF2600" stroke-width="5.4" stroke-linejoin="round" stroke-linecap="round"/>
<rect x="1461.66" y="123.9" width="14.6" height="14.6" fill="#FF2600" stroke="#000" stroke-width="1.7"/>
<rect x="1483.41" y="123.9" width="14.6" height="14.6" fill="#FF2600" stroke="#000" stroke-width="1.7"/>
<rect x="1505.17" y="123.9" width="14.6" height="14.6" fill="#FF2600" stroke="#000" stroke-width="1.7"/>
<rect x="1526.92" y="123.9" width="14.6" height="14.6" fill="#FF2600" stroke="#000" stroke-width="1.7"/>
<rect x="1548.68" y="123.9" width="14.6" height="14.6" fill="#FF2600" stroke="#000" stroke-width="1.7"/>
<rect x="1570.43" y="123.9" width="14.6" height="14.6" fill="#FF2600" stroke="#000" stroke-width="1.7"/>
<rect x="1592.19" y="123.9" width="14.6" height="14.6" fill="#FF2600" stroke="#000" stroke-width="1.7"/>
<rect x="1613.94" y="123.9" width="14.6" height="14.6" fill="#FF2600" stroke="#000" stroke-width="1.7"/>
<rect x="1635.7" y="123.9" width="14.6" height="14.6" fill="#FF2600" stroke="#000" stroke-width="1.7"/>
<rect x="1657.45" y="139.12" width="14.6" height="14.6" fill="#FF2600" stroke="#000" stroke-width="1.7"/>
<rect x="1679.21" y="139.12" width="14.6" height="14.6" fill="#FF2600" stroke="#000" stroke-width="1.7"/>
<rect x="1700.96" y="139.12" width="14.6" height="14.6" fill="#FF2600" stroke="#000" stroke-width="1.7"/>
<rect x="1722.72" y="184.44" width="14.6" height="14.6" fill="#FF2600" stroke="#000" stroke-width="1.7"/>
<rect x="1744.47" y="184.44" width="14.6" height="14.6" fill="#FF2600" stroke="#000" stroke-width="1.7"/>
<rect x="1766.23" y="184.44" width="14.6" height="14.6" fill="#FF2600" stroke="#000" stroke-width="1.7"/>
<rect x="1787.98" y="184.44" width="14.6" height="14.6" fill="#FF2600" stroke="#000" stroke-width="1.7"/>
<rect x="1809.74" y="199.3" width="14.6" height="14.6" fill="#FF2600" stroke="#000" stroke-width="1.7"/>
<rect x="1831.49" y="199.3" width="14.6" height="14.6" fill="#FF2600" stroke="#000" stroke-width="1.7"/>
<rect x="1853.25" y="199.3" width="14.6" height="14.6" fill="#FF2600" stroke="#000" stroke-width="1.7"/>
<rect x="1875" y="244.61" width="14.6" height="14.6" fill="#FF2600" stroke="#000" stroke-width="1.7"/>
<rect x="1896.76" y="244.61" width="14.6" height="14.6" fill="#FF2600" stroke="#000" stroke-width="1.7"/>
<rect x="1918.51" y="305.15" width="14.6" height="14.6" fill="#FF2600" stroke="#000" stroke-width="1.7"/>
<rect x="1940.27" y="305.15" width="14.6" height="14.6" fill="#FF2600" stroke="#000" stroke-width="1.7"/>
</g>
<g><polyline points="1468.96,131.2 1490.71,131.2 1512.47,131.2 1534.22,131.2 1555.98,131.2 1577.73,131.2 1599.49,131.2 1621.24,131.2 1643,131.2 1664.75,147.51 1686.51,164.19 1708.26,164.19 1730.02,230.16 1751.77,246.47 1773.53,246.47 1795.28,263.15 1817.04,263.15 1838.79,263.15 1860.55,263.15 1882.3,279.46 1904.06,279.46 1925.81,328.76 1947.57,345.44" fill="none" stroke="#76D6FF" stroke-width="5.4" stroke-linejoin="round" stroke-linecap="round"/>
<path d="M1468.96 121.6L1479.16 141.8L1458.76 141.8Z" fill="#76D6FF" stroke="#000" stroke-width="1.7"/>
<path d="M1490.71 121.6L1500.91 141.8L1480.51 141.8Z" fill="#76D6FF" stroke="#000" stroke-width="1.7"/>
<path d="M1512.47 121.6L1522.67 141.8L1502.27 141.8Z" fill="#76D6FF" stroke="#000" stroke-width="1.7"/>
<path d="M1534.22 121.6L1544.42 141.8L1524.02 141.8Z" fill="#76D6FF" stroke="#000" stroke-width="1.7"/>
<path d="M1555.98 121.6L1566.18 141.8L1545.78 141.8Z" fill="#76D6FF" stroke="#000" stroke-width="1.7"/>
<path d="M1577.73 121.6L1587.93 141.8L1567.53 141.8Z" fill="#76D6FF" stroke="#000" stroke-width="1.7"/>
<path d="M1599.49 121.6L1609.69 141.8L1589.29 141.8Z" fill="#76D6FF" stroke="#000" stroke-width="1.7"/>
<path d="M1621.24 121.6L1631.44 141.8L1611.04 141.8Z" fill="#76D6FF" stroke="#000" stroke-width="1.7"/>
<path d="M1643 121.6L1653.2 141.8L1632.8 141.8Z" fill="#76D6FF" stroke="#000" stroke-width="1.7"/>
<path d="M1664.75 137.91L1674.95 158.11L1654.55 158.11Z" fill="#76D6FF" stroke="#000" stroke-width="1.7"/>
<path d="M1686.51 154.59L1696.71 174.79L1676.31 174.79Z" fill="#76D6FF" stroke="#000" stroke-width="1.7"/>
<path d="M1708.26 154.59L1718.46 174.79L1698.06 174.79Z" fill="#76D6FF" stroke="#000" stroke-width="1.7"/>
<path d="M1730.02 220.56L1740.22 240.76L1719.82 240.76Z" fill="#76D6FF" stroke="#000" stroke-width="1.7"/>
<path d="M1751.77 236.87L1761.97 257.07L1741.57 257.07Z" fill="#76D6FF" stroke="#000" stroke-width="1.7"/>
<path d="M1773.53 236.87L1783.73 257.07L1763.33 257.07Z" fill="#76D6FF" stroke="#000" stroke-width="1.7"/>
<path d="M1795.28 253.55L1805.48 273.75L1785.08 273.75Z" fill="#76D6FF" stroke="#000" stroke-width="1.7"/>
<path d="M1817.04 253.55L1827.24 273.75L1806.84 273.75Z" fill="#76D6FF" stroke="#000" stroke-width="1.7"/>
<path d="M1838.79 253.55L1848.99 273.75L1828.59 273.75Z" fill="#76D6FF" stroke="#000" stroke-width="1.7"/>
<path d="M1860.55 253.55L1870.75 273.75L1850.35 273.75Z" fill="#76D6FF" stroke="#000" stroke-width="1.7"/>
<path d="M1882.3 269.86L1892.5 290.06L1872.1 290.06Z" fill="#76D6FF" stroke="#000" stroke-width="1.7"/>
<path d="M1904.06 269.86L1914.26 290.06L1893.86 290.06Z" fill="#76D6FF" stroke="#000" stroke-width="1.7"/>
<path d="M1925.81 319.16L1936.01 339.36L1915.61 339.36Z" fill="#76D6FF" stroke="#000" stroke-width="1.7"/>
<path d="M1947.57 335.84L1957.77 356.04L1937.37 356.04Z" fill="#76D6FF" stroke="#000" stroke-width="1.7"/>
</g>
<g><polyline points="1468.96,131.2 1490.71,131.2 1512.47,131.2 1534.22,131.2 1555.98,131.2 1577.73,131.2 1599.49,131.2 1621.24,131.2 1643,131.2 1664.75,131.2 1686.51,131.2 1708.26,131.2 1730.02,147.51 1751.77,147.51 1773.53,147.51 1795.28,147.51 1817.04,164.19 1838.79,164.19 1860.55,164.19 1882.3,164.19 1904.06,180.5 1925.81,180.5 1947.57,213.49" fill="none" stroke="#0433FF" stroke-width="5.4" stroke-linejoin="round" stroke-linecap="round"/>
<path d="M1468.96 121.6L1479.16 141.8L1458.76 141.8Z" fill="#0433FF" stroke="#000" stroke-width="1.7"/>
<path d="M1490.71 121.6L1500.91 141.8L1480.51 141.8Z" fill="#0433FF" stroke="#000" stroke-width="1.7"/>
<path d="M1512.47 121.6L1522.67 141.8L1502.27 141.8Z" fill="#0433FF" stroke="#000" stroke-width="1.7"/>
<path d="M1534.22 121.6L1544.42 141.8L1524.02 141.8Z" fill="#0433FF" stroke="#000" stroke-width="1.7"/>
<path d="M1555.98 121.6L1566.18 141.8L1545.78 141.8Z" fill="#0433FF" stroke="#000" stroke-width="1.7"/>
<path d="M1577.73 121.6L1587.93 141.8L1567.53 141.8Z" fill="#0433FF" stroke="#000" stroke-width="1.7"/>
<path d="M1599.49 121.6L1609.69 141.8L1589.29 141.8Z" fill="#0433FF" stroke="#000" stroke-width="1.7"/>
<path d="M1621.24 121.6L1631.44 141.8L1611.04 141.8Z" fill="#0433FF" stroke="#000" stroke-width="1.7"/>
<path d="M1643 121.6L1653.2 141.8L1632.8 141.8Z" fill="#0433FF" stroke="#000" stroke-width="1.7"/>
<path d="M1664.75 121.6L1674.95 141.8L1654.55 141.8Z" fill="#0433FF" stroke="#000" stroke-width="1.7"/>
<path d="M1686.51 121.6L1696.71 141.8L1676.31 141.8Z" fill="#0433FF" stroke="#000" stroke-width="1.7"/>
<path d="M1708.26 121.6L1718.46 141.8L1698.06 141.8Z" fill="#0433FF" stroke="#000" stroke-width="1.7"/>
<path d="M1730.02 137.91L1740.22 158.11L1719.82 158.11Z" fill="#0433FF" stroke="#000" stroke-width="1.7"/>
<path d="M1751.77 137.91L1761.97 158.11L1741.57 158.11Z" fill="#0433FF" stroke="#000" stroke-width="1.7"/>
<path d="M1773.53 137.91L1783.73 158.11L1763.33 158.11Z" fill="#0433FF" stroke="#000" stroke-width="1.7"/>
<path d="M1795.28 137.91L1805.48 158.11L1785.08 158.11Z" fill="#0433FF" stroke="#000" stroke-width="1.7"/>
<path d="M1817.04 154.59L1827.24 174.79L1806.84 174.79Z" fill="#0433FF" stroke="#000" stroke-width="1.7"/>
<path d="M1838.79 154.59L1848.99 174.79L1828.59 174.79Z" fill="#0433FF" stroke="#000" stroke-width="1.7"/>
<path d="M1860.55 154.59L1870.75 174.79L1850.35 174.79Z" fill="#0433FF" stroke="#000" stroke-width="1.7"/>
<path d="M1882.3 154.59L1892.5 174.79L1872.1 174.79Z" fill="#0433FF" stroke="#000" stroke-width="1.7"/>
<path d="M1904.06 170.9L1914.26 191.1L1893.86 191.1Z" fill="#0433FF" stroke="#000" stroke-width="1.7"/>
<path d="M1925.81 170.9L1936.01 191.1L1915.61 191.1Z" fill="#0433FF" stroke="#000" stroke-width="1.7"/>
<path d="M1947.57 203.89L1957.77 224.09L1937.37 224.09Z" fill="#0433FF" stroke="#000" stroke-width="1.7"/>
</g>
<g><polyline points="1468.96,131.2 1490.71,131.2 1512.47,131.2 1534.22,131.2 1555.98,131.2 1577.73,131.2 1599.49,131.2 1621.24,131.2 1643,149.32 1664.75,167.45 1686.51,167.45 1708.26,167.45 1730.02,258.07 1751.77,276.2 1773.53,294.32 1795.28,330.57 1817.04,348.7 1838.79,403.07 1860.55,403.07 1882.3,403.07 1904.06,421.2 1925.81,421.2 1947.57,439.32" fill="none" stroke="#000000" stroke-width="4.1" stroke-linejoin="round" stroke-linecap="round"/>
<circle cx="1468.96" cy="131.2" r="8.85" fill="#000"/>
<circle cx="1490.71" cy="131.2" r="8.85" fill="#000"/>
<circle cx="1512.47" cy="131.2" r="8.85" fill="#000"/>
<circle cx="1534.22" cy="131.2" r="8.85" fill="#000"/>
<circle cx="1555.98" cy="131.2" r="8.85" fill="#000"/>
<circle cx="1577.73" cy="131.2" r="8.85" fill="#000"/>
<circle cx="1599.49" cy="131.2" r="8.85" fill="#000"/>
<circle cx="1621.24" cy="131.2" r="8.85" fill="#000"/>
<circle cx="1643" cy="149.32" r="8.85" fill="#000"/>
<circle cx="1664.75" cy="167.45" r="8.85" fill="#000"/>
<circle cx="1686.51" cy="167.45" r="8.85" fill="#000"/>
<circle cx="1708.26" cy="167.45" r="8.85" fill="#000"/>
<circle cx="1730.02" cy="258.07" r="8.85" fill="#000"/>
<circle cx="1751.77" cy="276.2" r="8.85" fill="#000"/>
<circle cx="1773.53" cy="294.32" r="8.85" fill="#000"/>
<circle cx="1795.28" cy="330.57" r="8.85" fill="#000"/>
<circle cx="1817.04" cy="348.7" r="8.85" fill="#000"/>
<circle cx="1838.79" cy="403.07" r="8.85" fill="#000"/>
<circle cx="1860.55" cy="403.07" r="8.85" fill="#000"/>
<circle cx="1882.3" cy="403.07" r="8.85" fill="#000"/>
<circle cx="1904.06" cy="421.2" r="8.85" fill="#000"/>
<circle cx="1925.81" cy="421.2" r="8.85" fill="#000"/>
<circle cx="1947.57" cy="439.32" r="8.85" fill="#000"/>
</g>
</g>
<g id="b1">
<path d="M109.9 737.25V1110.8M99.9 1101.2H654.4M99.9 1028.96H109.9M99.9 956.72H109.9M99.9 884.48H109.9M99.9 812.24H109.9M99.9 740H109.9M218.25 1101.2V1110.8M326.6 1101.2V1110.8M434.95 1101.2V1110.8M543.3 1101.2V1110.8M651.65 1101.2V1110.8" fill="none" stroke="#000" stroke-width="5.5"/>
<text transform="translate(95.1 1110.9) scale(1 1.02)" font-size="30" text-anchor="end" stroke="#000" stroke-width="0.3">0</text>
<text transform="translate(95.1 1038.66) scale(1 1.02)" font-size="30" text-anchor="end" stroke="#000" stroke-width="0.3">20</text>
<text transform="translate(95.1 966.42) scale(1 1.02)" font-size="30" text-anchor="end" stroke="#000" stroke-width="0.3">40</text>
<text transform="translate(95.1 894.18) scale(1 1.02)" font-size="30" text-anchor="end" stroke="#000" stroke-width="0.3">60</text>
<text transform="translate(95.1 821.94) scale(1 1.02)" font-size="30" text-anchor="end" stroke="#000" stroke-width="0.3">80</text>
<text transform="translate(95.1 749.7) scale(1 1.02)" font-size="30" text-anchor="end" stroke="#000" stroke-width="0.3">100</text>
<text transform="translate(109.9 1143.2) scale(1 1.02)" font-size="30" text-anchor="middle" stroke="#000" stroke-width="0.3">0</text>
<text transform="translate(218.25 1143.2) scale(1 1.02)" font-size="30" text-anchor="middle" stroke="#000" stroke-width="0.3">5</text>
<text transform="translate(326.6 1143.2) scale(1 1.02)" font-size="30" text-anchor="middle" stroke="#000" stroke-width="0.3">10</text>
<text transform="translate(434.95 1143.2) scale(1 1.02)" font-size="30" text-anchor="middle" stroke="#000" stroke-width="0.3">15</text>
<text transform="translate(543.3 1143.2) scale(1 1.02)" font-size="30" text-anchor="middle" stroke="#000" stroke-width="0.3">20</text>
<text transform="translate(651.65 1143.2) scale(1 1.02)" font-size="30" text-anchor="middle" stroke="#000" stroke-width="0.3">25</text>
<text transform="translate(380.77 1198.7) scale(1 1.04)" font-size="34.4" text-anchor="middle" stroke="#000" stroke-width="0.3">DPI</text>
<text transform="translate(30.6 918) rotate(-90)" font-size="34.4" text-anchor="middle">% Non-symptomatic</text>
<g><polyline points="131.57,740 153.24,740 174.91,740 196.58,740 218.25,740 239.92,740 261.59,740 283.26,805.74 304.93,871.48 326.6,887.73 348.27,920.6 369.94,953.47 391.61,953.47 413.28,986.34 434.95,986.34 456.62,986.34 478.29,1002.59 499.96,1019.21 521.63,1068.33 543.3,1068.33 564.97,1068.33 586.64,1084.95 608.31,1084.95" fill="none" stroke="#00D420" stroke-width="5.4" stroke-linejoin="round" stroke-linecap="round"/>
<path d="M131.57 728.9L142.37 740L131.57 751.1L120.77 740Z" fill="#00D420" stroke="#000" stroke-width="1.7"/>
<path d="M153.24 728.9L164.04 740L153.24 751.1L142.44 740Z" fill="#00D420" stroke="#000" stroke-width="1.7"/>
<path d="M174.91 728.9L185.71 740L174.91 751.1L164.11 740Z" fill="#00D420" stroke="#000" stroke-width="1.7"/>
<path d="M196.58 728.9L207.38 740L196.58 751.1L185.78 740Z" fill="#00D420" stroke="#000" stroke-width="1.7"/>
<path d="M218.25 728.9L229.05 740L218.25 751.1L207.45 740Z" fill="#00D420" stroke="#000" stroke-width="1.7"/>
<path d="M239.92 728.9L250.72 740L239.92 751.1L229.12 740Z" fill="#00D420" stroke="#000" stroke-width="1.7"/>
<path d="M261.59 728.9L272.39 740L261.59 751.1L250.79 740Z" fill="#00D420" stroke="#000" stroke-width="1.7"/>
<path d="M283.26 794.64L294.06 805.74L283.26 816.84L272.46 805.74Z" fill="#00D420" stroke="#000" stroke-width="1.7"/>
<path d="M304.93 860.38L315.73 871.48L304.93 882.58L294.13 871.48Z" fill="#00D420" stroke="#000" stroke-width="1.7"/>
<path d="M326.6 876.63L337.4 887.73L326.6 898.83L315.8 887.73Z" fill="#00D420" stroke="#000" stroke-width="1.7"/>
<path d="M348.27 909.5L359.07 920.6L348.27 931.7L337.47 920.6Z" fill="#00D420" stroke="#000" stroke-width="1.7"/>
<path d="M369.94 942.37L380.74 953.47L369.94 964.57L359.14 953.47Z" fill="#00D420" stroke="#000" stroke-width="1.7"/>
<path d="M391.61 942.37L402.41 953.47L391.61 964.57L380.81 953.47Z" fill="#00D420" stroke="#000" stroke-width="1.7"/>
<path d="M413.28 975.24L424.08 986.34L413.28 997.44L402.48 986.34Z" fill="#00D420" stroke="#000" stroke-width="1.7"/>
<path d="M434.95 975.24L445.75 986.34L434.95 997.44L424.15 986.34Z" fill="#00D420" stroke="#000" stroke-width="1.7"/>
<path d="M456.62 975.24L467.42 986.34L456.62 997.44L445.82 986.34Z" fill="#00D420" stroke="#000" stroke-width="1.7"/>
<path d="M478.29 991.49L489.09 1002.59L478.29 1013.69L467.49 1002.59Z" fill="#00D420" stroke="#000" stroke-width="1.7"/>
<path d="M499.96 1008.11L510.76 1019.21L499.96 1030.31L489.16 1019.21Z" fill="#00D420" stroke="#000" stroke-width="1.7"/>
<path d="M521.63 1057.23L532.43 1068.33L521.63 1079.43L510.83 1068.33Z" fill="#00D420" stroke="#000" stroke-width="1.7"/>
<path d="M543.3 1057.23L554.1 1068.33L543.3 1079.43L532.5 1068.33Z" fill="#00D420" stroke="#000" stroke-width="1.7"/>
<path d="M564.97 1057.23L575.77 1068.33L564.97 1079.43L554.17 1068.33Z" fill="#00D420" stroke="#000" stroke-width="1.7"/>
<path d="M586.64 1073.85L597.44 1084.95L586.64 1096.05L575.84 1084.95Z" fill="#00D420" stroke="#000" stroke-width="1.7"/>
<path d="M608.31 1073.85L619.11 1084.95L608.31 1096.05L597.51 1084.95Z" fill="#00D420" stroke="#000" stroke-width="1.7"/>
</g>
<g><polyline points="131.57,740 153.24,740 174.91,740 196.58,740 218.25,740 239.92,740 261.59,740 283.26,757.34 304.93,757.34 326.6,808.63 348.27,808.63 369.94,843.3 391.61,877.62 413.28,894.95 434.95,894.95 456.62,894.95 478.29,894.95 499.96,929.27 521.63,929.27 543.3,929.27 564.97,946.25 586.64,946.25 608.31,946.25" fill="none" stroke="#008F00" stroke-width="5.4" stroke-linejoin="round" stroke-linecap="round"/>
<path d="M131.57 728.9L142.37 740L131.57 751.1L120.77 740Z" fill="#008F00" stroke="#000" stroke-width="1.7"/>
<path d="M153.24 728.9L164.04 740L153.24 751.1L142.44 740Z" fill="#008F00" stroke="#000" stroke-width="1.7"/>
<path d="M174.91 728.9L185.71 740L174.91 751.1L164.11 740Z" fill="#008F00" stroke="#000" stroke-width="1.7"/>
<path d="M196.58 728.9L207.38 740L196.58 751.1L185.78 740Z" fill="#008F00" stroke="#000" stroke-width="1.7"/>
<path d="M218.25 728.9L229.05 740L218.25 751.1L207.45 740Z" fill="#008F00" stroke="#000" stroke-width="1.7"/>
<path d="M239.92 728.9L250.72 740L239.92 751.1L229.12 740Z" fill="#008F00" stroke="#000" stroke-width="1.7"/>
<path d="M261.59 728.9L272.39 740L261.59 751.1L250.79 740Z" fill="#008F00" stroke="#000" stroke-width="1.7"/>
<path d="M283.26 746.24L294.06 757.34L283.26 768.44L272.46 757.34Z" fill="#008F00" stroke="#000" stroke-width="1.7"/>
<path d="M304.93 746.24L315.73 757.34L304.93 768.44L294.13 757.34Z" fill="#008F00" stroke="#000" stroke-width="1.7"/>
<path d="M326.6 797.53L337.4 808.63L326.6 819.73L315.8 808.63Z" fill="#008F00" stroke="#000" stroke-width="1.7"/>
<path d="M348.27 797.53L359.07 808.63L348.27 819.73L337.47 808.63Z" fill="#008F00" stroke="#000" stroke-width="1.7"/>
<path d="M369.94 832.2L380.74 843.3L369.94 854.4L359.14 843.3Z" fill="#008F00" stroke="#000" stroke-width="1.7"/>
<path d="M391.61 866.52L402.41 877.62L391.61 888.72L380.81 877.62Z" fill="#008F00" stroke="#000" stroke-width="1.7"/>
<path d="M413.28 883.85L424.08 894.95L413.28 906.05L402.48 894.95Z" fill="#008F00" stroke="#000" stroke-width="1.7"/>
<path d="M434.95 883.85L445.75 894.95L434.95 906.05L424.15 894.95Z" fill="#008F00" stroke="#000" stroke-width="1.7"/>
<path d="M456.62 883.85L467.42 894.95L456.62 906.05L445.82 894.95Z" fill="#008F00" stroke="#000" stroke-width="1.7"/>
<path d="M478.29 883.85L489.09 894.95L478.29 906.05L467.49 894.95Z" fill="#008F00" stroke="#000" stroke-width="1.7"/>
<path d="M499.96 918.17L510.76 929.27L499.96 940.37L489.16 929.27Z" fill="#008F00" stroke="#000" stroke-width="1.7"/>
<path d="M521.63 918.17L532.43 929.27L521.63 940.37L510.83 929.27Z" fill="#008F00" stroke="#000" stroke-width="1.7"/>
<path d="M543.3 918.17L554.1 929.27L543.3 940.37L532.5 929.27Z" fill="#008F00" stroke="#000" stroke-width="1.7"/>
<path d="M564.97 935.15L575.77 946.25L564.97 957.35L554.17 946.25Z" fill="#008F00" stroke="#000" stroke-width="1.7"/>
<path d="M586.64 935.15L597.44 946.25L586.64 957.35L575.84 946.25Z" fill="#008F00" stroke="#000" stroke-width="1.7"/>
<path d="M608.31 935.15L619.11 946.25L608.31 957.35L597.51 946.25Z" fill="#008F00" stroke="#000" stroke-width="1.7"/>
</g>
<g><polyline points="131.57,740 153.24,740 174.91,740 196.58,740 218.25,740 239.92,756.25 261.59,772.87 283.26,821.99 304.93,854.86 326.6,887.73 348.27,904.35 369.94,969.72 391.61,1002.59 413.28,1002.59 434.95,1019.21 456.62,1035.46 478.29,1035.46 499.96,1035.46 521.63,1068.33 543.3,1084.95 564.97,1084.95 586.64,1084.95 608.31,1084.95" fill="none" stroke="#000000" stroke-width="4.1" stroke-linejoin="round" stroke-linecap="round"/>
<circle cx="131.57" cy="740" r="8.85" fill="#000"/>
<circle cx="153.24" cy="740" r="8.85" fill="#000"/>
<circle cx="174.91" cy="740" r="8.85" fill="#000"/>
<circle cx="196.58" cy="740" r="8.85" fill="#000"/>
<circle cx="218.25" cy="740" r="8.85" fill="#000"/>
<circle cx="239.92" cy="756.25" r="8.85" fill="#000"/>
<circle cx="261.59" cy="772.87" r="8.85" fill="#000"/>
<circle cx="283.26" cy="821.99" r="8.85" fill="#000"/>
<circle cx="304.93" cy="854.86" r="8.85" fill="#000"/>
<circle cx="326.6" cy="887.73" r="8.85" fill="#000"/>
<circle cx="348.27" cy="904.35" r="8.85" fill="#000"/>
<circle cx="369.94" cy="969.72" r="8.85" fill="#000"/>
<circle cx="391.61" cy="1002.59" r="8.85" fill="#000"/>
<circle cx="413.28" cy="1002.59" r="8.85" fill="#000"/>
<circle cx="434.95" cy="1019.21" r="8.85" fill="#000"/>
<circle cx="456.62" cy="1035.46" r="8.85" fill="#000"/>
<circle cx="478.29" cy="1035.46" r="8.85" fill="#000"/>
<circle cx="499.96" cy="1035.46" r="8.85" fill="#000"/>
<circle cx="521.63" cy="1068.33" r="8.85" fill="#000"/>
<circle cx="543.3" cy="1084.95" r="8.85" fill="#000"/>
<circle cx="564.97" cy="1084.95" r="8.85" fill="#000"/>
<circle cx="586.64" cy="1084.95" r="8.85" fill="#000"/>
<circle cx="608.31" cy="1084.95" r="8.85" fill="#000"/>
</g>
</g>
<g id="b2">
<path d="M795 738.25V1110.8M785 1101.2H1337.75M785 1029.16H795M785 957.12H795M785 885.08H795M785 813.04H795M785 741H795M903 1101.2V1110.8M1011 1101.2V1110.8M1119 1101.2V1110.8M1227 1101.2V1110.8M1335 1101.2V1110.8" fill="none" stroke="#000" stroke-width="5.5"/>
<text transform="translate(780.2 1110.9) scale(1 1.02)" font-size="30" text-anchor="end" stroke="#000" stroke-width="0.3">0</text>
<text transform="translate(780.2 1038.86) scale(1 1.02)" font-size="30" text-anchor="end" stroke="#000" stroke-width="0.3">20</text>
<text transform="translate(780.2 966.82) scale(1 1.02)" font-size="30" text-anchor="end" stroke="#000" stroke-width="0.3">40</text>
<text transform="translate(780.2 894.78) scale(1 1.02)" font-size="30" text-anchor="end" stroke="#000" stroke-width="0.3">60</text>
<text transform="translate(780.2 822.74) scale(1 1.02)" font-size="30" text-anchor="end" stroke="#000" stroke-width="0.3">80</text>
<text transform="translate(780.2 750.7) scale(1 1.02)" font-size="30" text-anchor="end" stroke="#000" stroke-width="0.3">100</text>
<text transform="translate(795 1143.2) scale(1 1.02)" font-size="30" text-anchor="middle" stroke="#000" stroke-width="0.3">0</text>
<text transform="translate(903 1143.2) scale(1 1.02)" font-size="30" text-anchor="middle" stroke="#000" stroke-width="0.3">5</text>
<text transform="translate(1011 1143.2) scale(1 1.02)" font-size="30" text-anchor="middle" stroke="#000" stroke-width="0.3">10</text>
<text transform="translate(1119 1143.2) scale(1 1.02)" font-size="30" text-anchor="middle" stroke="#000" stroke-width="0.3">15</text>
<text transform="translate(1227 1143.2) scale(1 1.02)" font-size="30" text-anchor="middle" stroke="#000" stroke-width="0.3">20</text>
<text transform="translate(1335 1143.2) scale(1 1.02)" font-size="30" text-anchor="middle" stroke="#000" stroke-width="0.3">25</text>
<text transform="translate(1065 1198.7) scale(1 1.04)" font-size="34.4" text-anchor="middle" stroke="#000" stroke-width="0.3">DPI</text>
<text transform="translate(716.6 918) rotate(-90)" font-size="34.4" text-anchor="middle">% Non-symptomatic</text>
<g><polyline points="816.6,741 838.2,741 859.8,741 881.4,741 903,741 924.6,741 946.2,741 967.8,741 989.4,741 1011,741 1032.6,806.56 1054.2,839.33 1075.8,888.32 1097.4,921.1 1119,937.31 1140.6,970.09 1162.2,970.09 1183.8,970.09 1205.4,970.09 1227,970.09 1248.6,970.09 1270.2,970.09 1291.8,970.09" fill="none" stroke="#00D420" stroke-width="5.4" stroke-linejoin="round" stroke-linecap="round"/>
<path d="M816.6 729.9L827.4 741L816.6 752.1L805.8 741Z" fill="#00D420" stroke="#000" stroke-width="1.7"/>
<path d="M838.2 729.9L849 741L838.2 752.1L827.4 741Z" fill="#00D420" stroke="#000" stroke-width="1.7"/>
<path d="M859.8 729.9L870.6 741L859.8 752.1L849 741Z" fill="#00D420" stroke="#000" stroke-width="1.7"/>
<path d="M881.4 729.9L892.2 741L881.4 752.1L870.6 741Z" fill="#00D420" stroke="#000" stroke-width="1.7"/>
<path d="M903 729.9L913.8 741L903 752.1L892.2 741Z" fill="#00D420" stroke="#000" stroke-width="1.7"/>
<path d="M924.6 729.9L935.4 741L924.6 752.1L913.8 741Z" fill="#00D420" stroke="#000" stroke-width="1.7"/>
<path d="M946.2 729.9L957 741L946.2 752.1L935.4 741Z" fill="#00D420" stroke="#000" stroke-width="1.7"/>
<path d="M967.8 729.9L978.6 741L967.8 752.1L957 741Z" fill="#00D420" stroke="#000" stroke-width="1.7"/>
<path d="M989.4 729.9L1000.2 741L989.4 752.1L978.6 741Z" fill="#00D420" stroke="#000" stroke-width="1.7"/>
<path d="M1011 729.9L1021.8 741L1011 752.1L1000.2 741Z" fill="#00D420" stroke="#000" stroke-width="1.7"/>
<path d="M1032.6 795.46L1043.4 806.56L1032.6 817.66L1021.8 806.56Z" fill="#00D420" stroke="#000" stroke-width="1.7"/>
<path d="M1054.2 828.23L1065 839.33L1054.2 850.43L1043.4 839.33Z" fill="#00D420" stroke="#000" stroke-width="1.7"/>
<path d="M1075.8 877.22L1086.6 888.32L1075.8 899.42L1065 888.32Z" fill="#00D420" stroke="#000" stroke-width="1.7"/>
<path d="M1097.4 910L1108.2 921.1L1097.4 932.2L1086.6 921.1Z" fill="#00D420" stroke="#000" stroke-width="1.7"/>
<path d="M1119 926.21L1129.8 937.31L1119 948.41L1108.2 937.31Z" fill="#00D420" stroke="#000" stroke-width="1.7"/>
<path d="M1140.6 958.99L1151.4 970.09L1140.6 981.19L1129.8 970.09Z" fill="#00D420" stroke="#000" stroke-width="1.7"/>
<path d="M1162.2 958.99L1173 970.09L1162.2 981.19L1151.4 970.09Z" fill="#00D420" stroke="#000" stroke-width="1.7"/>
<path d="M1183.8 958.99L1194.6 970.09L1183.8 981.19L1173 970.09Z" fill="#00D420" stroke="#000" stroke-width="1.7"/>
<path d="M1205.4 958.99L1216.2 970.09L1205.4 981.19L1194.6 970.09Z" fill="#00D420" stroke="#000" stroke-width="1.7"/>
<path d="M1227 958.99L1237.8 970.09L1227 981.19L1216.2 970.09Z" fill="#00D420" stroke="#000" stroke-width="1.7"/>
<path d="M1248.6 958.99L1259.4 970.09L1248.6 981.19L1237.8 970.09Z" fill="#00D420" stroke="#000" stroke-width="1.7"/>
<path d="M1270.2 958.99L1281 970.09L1270.2 981.19L1259.4 970.09Z" fill="#00D420" stroke="#000" stroke-width="1.7"/>
<path d="M1291.8 958.99L1302.6 970.09L1291.8 981.19L1281 970.09Z" fill="#00D420" stroke="#000" stroke-width="1.7"/>
</g>
<g><polyline points="816.6,741 838.2,741 859.8,741 881.4,741 903,741 924.6,741 946.2,741 967.8,741 989.4,741 1011,741 1032.6,741 1054.2,741 1075.8,758.29 1097.4,809.44 1119,826.73 1140.6,844.02 1162.2,844.02 1183.8,860.95 1205.4,878.24 1227,878.24 1248.6,878.24 1270.2,878.24 1291.8,878.24" fill="none" stroke="#008F00" stroke-width="5.4" stroke-linejoin="round" stroke-linecap="round"/>
<path d="M816.6 729.9L827.4 741L816.6 752.1L805.8 741Z" fill="#008F00" stroke="#000" stroke-width="1.7"/>
<path d="M838.2 729.9L849 741L838.2 752.1L827.4 741Z" fill="#008F00" stroke="#000" stroke-width="1.7"/>
<path d="M859.8 729.9L870.6 741L859.8 752.1L849 741Z" fill="#008F00" stroke="#000" stroke-width="1.7"/>
<path d="M881.4 729.9L892.2 741L881.4 752.1L870.6 741Z" fill="#008F00" stroke="#000" stroke-width="1.7"/>
<path d="M903 729.9L913.8 741L903 752.1L892.2 741Z" fill="#008F00" stroke="#000" stroke-width="1.7"/>
<path d="M924.6 729.9L935.4 741L924.6 752.1L913.8 741Z" fill="#008F00" stroke="#000" stroke-width="1.7"/>
<path d="M946.2 729.9L957 741L946.2 752.1L935.4 741Z" fill="#008F00" stroke="#000" stroke-width="1.7"/>
<path d="M967.8 729.9L978.6 741L967.8 752.1L957 741Z" fill="#008F00" stroke="#000" stroke-width="1.7"/>
<path d="M989.4 729.9L1000.2 741L989.4 752.1L978.6 741Z" fill="#008F00" stroke="#000" stroke-width="1.7"/>
<path d="M1011 729.9L1021.8 741L1011 752.1L1000.2 741Z" fill="#008F00" stroke="#000" stroke-width="1.7"/>
<path d="M1032.6 729.9L1043.4 741L1032.6 752.1L1021.8 741Z" fill="#008F00" stroke="#000" stroke-width="1.7"/>
<path d="M1054.2 729.9L1065 741L1054.2 752.1L1043.4 741Z" fill="#008F00" stroke="#000" stroke-width="1.7"/>
<path d="M1075.8 747.19L1086.6 758.29L1075.8 769.39L1065 758.29Z" fill="#008F00" stroke="#000" stroke-width="1.7"/>
<path d="M1097.4 798.34L1108.2 809.44L1097.4 820.54L1086.6 809.44Z" fill="#008F00" stroke="#000" stroke-width="1.7"/>
<path d="M1119 815.63L1129.8 826.73L1119 837.83L1108.2 826.73Z" fill="#008F00" stroke="#000" stroke-width="1.7"/>
<path d="M1140.6 832.92L1151.4 844.02L1140.6 855.12L1129.8 844.02Z" fill="#008F00" stroke="#000" stroke-width="1.7"/>
<path d="M1162.2 832.92L1173 844.02L1162.2 855.12L1151.4 844.02Z" fill="#008F00" stroke="#000" stroke-width="1.7"/>
<path d="M1183.8 849.85L1194.6 860.95L1183.8 872.05L1173 860.95Z" fill="#008F00" stroke="#000" stroke-width="1.7"/>
<path d="M1205.4 867.14L1216.2 878.24L1205.4 889.34L1194.6 878.24Z" fill="#008F00" stroke="#000" stroke-width="1.7"/>
<path d="M1227 867.14L1237.8 878.24L1227 889.34L1216.2 878.24Z" fill="#008F00" stroke="#000" stroke-width="1.7"/>
<path d="M1248.6 867.14L1259.4 878.24L1248.6 889.34L1237.8 878.24Z" fill="#008F00" stroke="#000" stroke-width="1.7"/>
<path d="M1270.2 867.14L1281 878.24L1270.2 889.34L1259.4 878.24Z" fill="#008F00" stroke="#000" stroke-width="1.7"/>
<path d="M1291.8 867.14L1302.6 878.24L1291.8 889.34L1281 878.24Z" fill="#008F00" stroke="#000" stroke-width="1.7"/>
</g>
<g><polyline points="816.6,741 838.2,741 859.8,741 881.4,741 903,741 924.6,741 946.2,741 967.8,757.21 989.4,773.78 1011,789.99 1032.6,822.77 1054.2,855.54 1075.8,855.54 1097.4,904.89 1119,953.88 1140.6,1002.87 1162.2,1019.43 1183.8,1019.43 1205.4,1019.43 1227,1035.64 1248.6,1035.64 1270.2,1035.64 1291.8,1035.64" fill="none" stroke="#000000" stroke-width="4.1" stroke-linejoin="round" stroke-linecap="round"/>
<circle cx="816.6" cy="741" r="8.85" fill="#000"/>
<circle cx="838.2" cy="741" r="8.85" fill="#000"/>
<circle cx="859.8" cy="741" r="8.85" fill="#000"/>
<circle cx="881.4" cy="741" r="8.85" fill="#000"/>
<circle cx="903" cy="741" r="8.85" fill="#000"/>
<circle cx="924.6" cy="741" r="8.85" fill="#000"/>
<circle cx="946.2" cy="741" r="8.85" fill="#000"/>
<circle cx="967.8" cy="757.21" r="8.85" fill="#000"/>
<circle cx="989.4" cy="773.78" r="8.85" fill="#000"/>
<circle cx="1011" cy="789.99" r="8.85" fill="#000"/>
<circle cx="1032.6" cy="822.77" r="8.85" fill="#000"/>
<circle cx="1054.2" cy="855.54" r="8.85" fill="#000"/>
<circle cx="1075.8" cy="855.54" r="8.85" fill="#000"/>
<circle cx="1097.4" cy="904.89" r="8.85" fill="#000"/>
<circle cx="1119" cy="953.88" r="8.85" fill="#000"/>
<circle cx="1140.6" cy="1002.87" r="8.85" fill="#000"/>
<circle cx="1162.2" cy="1019.43" r="8.85" fill="#000"/>
<circle cx="1183.8" cy="1019.43" r="8.85" fill="#000"/>
<circle cx="1205.4" cy="1019.43" r="8.85" fill="#000"/>
<circle cx="1227" cy="1035.64" r="8.85" fill="#000"/>
<circle cx="1248.6" cy="1035.64" r="8.85" fill="#000"/>
<circle cx="1270.2" cy="1035.64" r="8.85" fill="#000"/>
<circle cx="1291.8" cy="1035.64" r="8.85" fill="#000"/>
</g>
</g>
<g id="b3">
<path d="M1447.2 738.45V1110.8M1437.2 1101.2H1989.95M1437.2 1029.2H1447.2M1437.2 957.2H1447.2M1437.2 885.2H1447.2M1437.2 813.2H1447.2M1437.2 741.2H1447.2M1555.2 1101.2V1110.8M1663.2 1101.2V1110.8M1771.2 1101.2V1110.8M1879.2 1101.2V1110.8M1987.2 1101.2V1110.8" fill="none" stroke="#000" stroke-width="5.5"/>
<text transform="translate(1432.4 1110.9) scale(1 1.02)" font-size="30" text-anchor="end" stroke="#000" stroke-width="0.3">0</text>
<text transform="translate(1432.4 1038.9) scale(1 1.02)" font-size="30" text-anchor="end" stroke="#000" stroke-width="0.3">20</text>
<text transform="translate(1432.4 966.9) scale(1 1.02)" font-size="30" text-anchor="end" stroke="#000" stroke-width="0.3">40</text>
<text transform="translate(1432.4 894.9) scale(1 1.02)" font-size="30" text-anchor="end" stroke="#000" stroke-width="0.3">60</text>
<text transform="translate(1432.4 822.9) scale(1 1.02)" font-size="30" text-anchor="end" stroke="#000" stroke-width="0.3">80</text>
<text transform="translate(1432.4 750.9) scale(1 1.02)" font-size="30" text-anchor="end" stroke="#000" stroke-width="0.3">100</text>
<text transform="translate(1447.2 1143.2) scale(1 1.02)" font-size="30" text-anchor="middle" stroke="#000" stroke-width="0.3">0</text>
<text transform="translate(1555.2 1143.2) scale(1 1.02)" font-size="30" text-anchor="middle" stroke="#000" stroke-width="0.3">5</text>
<text transform="translate(1663.2 1143.2) scale(1 1.02)" font-size="30" text-anchor="middle" stroke="#000" stroke-width="0.3">10</text>
<text transform="translate(1771.2 1143.2) scale(1 1.02)" font-size="30" text-anchor="middle" stroke="#000" stroke-width="0.3">15</text>
<text transform="translate(1879.2 1143.2) scale(1 1.02)" font-size="30" text-anchor="middle" stroke="#000" stroke-width="0.3">20</text>
<text transform="translate(1987.2 1143.2) scale(1 1.02)" font-size="30" text-anchor="middle" stroke="#000" stroke-width="0.3">25</text>
<text transform="translate(1717.2 1198.7) scale(1 1.04)" font-size="34.4" text-anchor="middle" stroke="#000" stroke-width="0.3">DPI</text>
<text transform="translate(1368.8 918) rotate(-90)" font-size="34.4" text-anchor="middle">% Alive</text>
<g><polyline points="1468.8,741.2 1490.4,741.2 1512,741.2 1533.6,741.2 1555.2,741.2 1576.8,741.2 1598.4,741.2 1620,741.2 1641.6,741.2 1663.2,741.2 1684.8,741.2 1706.4,741.2 1728,741.2 1749.6,741.2 1771.2,757.4 1792.8,790.16 1814.4,806.72 1836,839.48 1857.6,855.68 1879.2,921.2 1900.8,953.96 1922.4,953.96 1944,953.96" fill="none" stroke="#00D420" stroke-width="5.4" stroke-linejoin="round" stroke-linecap="round"/>
<path d="M1468.8 730.1L1479.6 741.2L1468.8 752.3L1458 741.2Z" fill="#00D420" stroke="#000" stroke-width="1.7"/>
<path d="M1490.4 730.1L1501.2 741.2L1490.4 752.3L1479.6 741.2Z" fill="#00D420" stroke="#000" stroke-width="1.7"/>
<path d="M1512 730.1L1522.8 741.2L1512 752.3L1501.2 741.2Z" fill="#00D420" stroke="#000" stroke-width="1.7"/>
<path d="M1533.6 730.1L1544.4 741.2L1533.6 752.3L1522.8 741.2Z" fill="#00D420" stroke="#000" stroke-width="1.7"/>
<path d="M1555.2 730.1L1566 741.2L1555.2 752.3L1544.4 741.2Z" fill="#00D420" stroke="#000" stroke-width="1.7"/>
<path d="M1576.8 730.1L1587.6 741.2L1576.8 752.3L1566 741.2Z" fill="#00D420" stroke="#000" stroke-width="1.7"/>
<path d="M1598.4 730.1L1609.2 741.2L1598.4 752.3L1587.6 741.2Z" fill="#00D420" stroke="#000" stroke-width="1.7"/>
<path d="M1620 730.1L1630.8 741.2L1620 752.3L1609.2 741.2Z" fill="#00D420" stroke="#000" stroke-width="1.7"/>
<path d="M1641.6 730.1L1652.4 741.2L1641.6 752.3L1630.8 741.2Z" fill="#00D420" stroke="#000" stroke-width="1.7"/>
<path d="M1663.2 730.1L1674 741.2L1663.2 752.3L1652.4 741.2Z" fill="#00D420" stroke="#000" stroke-width="1.7"/>
<path d="M1684.8 730.1L1695.6 741.2L1684.8 752.3L1674 741.2Z" fill="#00D420" stroke="#000" stroke-width="1.7"/>
<path d="M1706.4 730.1L1717.2 741.2L1706.4 752.3L1695.6 741.2Z" fill="#00D420" stroke="#000" stroke-width="1.7"/>
<path d="M1728 730.1L1738.8 741.2L1728 752.3L1717.2 741.2Z" fill="#00D420" stroke="#000" stroke-width="1.7"/>
<path d="M1749.6 730.1L1760.4 741.2L1749.6 752.3L1738.8 741.2Z" fill="#00D420" stroke="#000" stroke-width="1.7"/>
<path d="M1771.2 746.3L1782 757.4L1771.2 768.5L1760.4 757.4Z" fill="#00D420" stroke="#000" stroke-width="1.7"/>
<path d="M1792.8 779.06L1803.6 790.16L1792.8 801.26L1782 790.16Z" fill="#00D420" stroke="#000" stroke-width="1.7"/>
<path d="M1814.4 795.62L1825.2 806.72L1814.4 817.82L1803.6 806.72Z" fill="#00D420" stroke="#000" stroke-width="1.7"/>
<path d="M1836 828.38L1846.8 839.48L1836 850.58L1825.2 839.48Z" fill="#00D420" stroke="#000" stroke-width="1.7"/>
<path d="M1857.6 844.58L1868.4 855.68L1857.6 866.78L1846.8 855.68Z" fill="#00D420" stroke="#000" stroke-width="1.7"/>
<path d="M1879.2 910.1L1890 921.2L1879.2 932.3L1868.4 921.2Z" fill="#00D420" stroke="#000" stroke-width="1.7"/>
<path d="M1900.8 942.86L1911.6 953.96L1900.8 965.06L1890 953.96Z" fill="#00D420" stroke="#000" stroke-width="1.7"/>
<path d="M1922.4 942.86L1933.2 953.96L1922.4 965.06L1911.6 953.96Z" fill="#00D420" stroke="#000" stroke-width="1.7"/>
<path d="M1944 942.86L1954.8 953.96L1944 965.06L1933.2 953.96Z" fill="#00D420" stroke="#000" stroke-width="1.7"/>
</g>
<g><polyline points="1468.8,741.2 1490.4,741.2 1512,741.2 1533.6,741.2 1555.2,741.2 1576.8,741.2 1598.4,741.2 1620,741.2 1641.6,741.2 1663.2,741.2 1684.8,741.2 1706.4,741.2 1728,741.2 1749.6,741.2 1771.2,741.2 1792.8,741.2 1814.4,741.2 1836,792.68 1857.6,809.6 1879.2,826.88 1900.8,826.88 1922.4,826.88 1944,844.16" fill="none" stroke="#008F00" stroke-width="5.4" stroke-linejoin="round" stroke-linecap="round"/>
<path d="M1468.8 730.1L1479.6 741.2L1468.8 752.3L1458 741.2Z" fill="#008F00" stroke="#000" stroke-width="1.7"/>
<path d="M1490.4 730.1L1501.2 741.2L1490.4 752.3L1479.6 741.2Z" fill="#008F00" stroke="#000" stroke-width="1.7"/>
<path d="M1512 730.1L1522.8 741.2L1512 752.3L1501.2 741.2Z" fill="#008F00" stroke="#000" stroke-width="1.7"/>
<path d="M1533.6 730.1L1544.4 741.2L1533.6 752.3L1522.8 741.2Z" fill="#008F00" stroke="#000" stroke-width="1.7"/>
<path d="M1555.2 730.1L1566 741.2L1555.2 752.3L1544.4 741.2Z" fill="#008F00" stroke="#000" stroke-width="1.7"/>
<path d="M1576.8 730.1L1587.6 741.2L1576.8 752.3L1566 741.2Z" fill="#008F00" stroke="#000" stroke-width="1.7"/>
<path d="M1598.4 730.1L1609.2 741.2L1598.4 752.3L1587.6 741.2Z" fill="#008F00" stroke="#000" stroke-width="1.7"/>
<path d="M1620 730.1L1630.8 741.2L1620 752.3L1609.2 741.2Z" fill="#008F00" stroke="#000" stroke-width="1.7"/>
<path d="M1641.6 730.1L1652.4 741.2L1641.6 752.3L1630.8 741.2Z" fill="#008F00" stroke="#000" stroke-width="1.7"/>
<path d="M1663.2 730.1L1674 741.2L1663.2 752.3L1652.4 741.2Z" fill="#008F00" stroke="#000" stroke-width="1.7"/>
<path d="M1684.8 730.1L1695.6 741.2L1684.8 752.3L1674 741.2Z" fill="#008F00" stroke="#000" stroke-width="1.7"/>
<path d="M1706.4 730.1L1717.2 741.2L1706.4 752.3L1695.6 741.2Z" fill="#008F00" stroke="#000" stroke-width="1.7"/>
<path d="M1728 730.1L1738.8 741.2L1728 752.3L1717.2 741.2Z" fill="#008F00" stroke="#000" stroke-width="1.7"/>
<path d="M1749.6 730.1L1760.4 741.2L1749.6 752.3L1738.8 741.2Z" fill="#008F00" stroke="#000" stroke-width="1.7"/>
<path d="M1771.2 730.1L1782 741.2L1771.2 752.3L1760.4 741.2Z" fill="#008F00" stroke="#000" stroke-width="1.7"/>
<path d="M1792.8 730.1L1803.6 741.2L1792.8 752.3L1782 741.2Z" fill="#008F00" stroke="#000" stroke-width="1.7"/>
<path d="M1814.4 730.1L1825.2 741.2L1814.4 752.3L1803.6 741.2Z" fill="#008F00" stroke="#000" stroke-width="1.7"/>
<path d="M1836 781.58L1846.8 792.68L1836 803.78L1825.2 792.68Z" fill="#008F00" stroke="#000" stroke-width="1.7"/>
<path d="M1857.6 798.5L1868.4 809.6L1857.6 820.7L1846.8 809.6Z" fill="#008F00" stroke="#000" stroke-width="1.7"/>
<path d="M1879.2 815.78L1890 826.88L1879.2 837.98L1868.4 826.88Z" fill="#008F00" stroke="#000" stroke-width="1.7"/>
<path d="M1900.8 815.78L1911.6 826.88L1900.8 837.98L1890 826.88Z" fill="#008F00" stroke="#000" stroke-width="1.7"/>
<path d="M1922.4 815.78L1933.2 826.88L1922.4 837.98L1911.6 826.88Z" fill="#008F00" stroke="#000" stroke-width="1.7"/>
<path d="M1944 833.06L1954.8 844.16L1944 855.26L1933.2 844.16Z" fill="#008F00" stroke="#000" stroke-width="1.7"/>
</g>
<g><polyline points="1468.8,741.2 1490.4,741.2 1512,741.2 1533.6,741.2 1555.2,741.2 1576.8,741.2 1598.4,741.2 1620,741.2 1641.6,741.2 1663.2,741.2 1684.8,741.2 1706.4,741.2 1728,741.2 1749.6,741.2 1771.2,790.16 1792.8,790.16 1814.4,855.68 1836,872.24 1857.6,905 1879.2,937.4 1900.8,970.16 1922.4,970.16 1944,1019.48" fill="none" stroke="#000000" stroke-width="4.1" stroke-linejoin="round" stroke-linecap="round"/>
<circle cx="1468.8" cy="741.2" r="8.85" fill="#000"/>
<circle cx="1490.4" cy="741.2" r="8.85" fill="#000"/>
<circle cx="1512" cy="741.2" r="8.85" fill="#000"/>
<circle cx="1533.6" cy="741.2" r="8.85" fill="#000"/>
<circle cx="1555.2" cy="741.2" r="8.85" fill="#000"/>
<circle cx="1576.8" cy="741.2" r="8.85" fill="#000"/>
<circle cx="1598.4" cy="741.2" r="8.85" fill="#000"/>
<circle cx="1620" cy="741.2" r="8.85" fill="#000"/>
<circle cx="1641.6" cy="741.2" r="8.85" fill="#000"/>
<circle cx="1663.2" cy="741.2" r="8.85" fill="#000"/>
<circle cx="1684.8" cy="741.2" r="8.85" fill="#000"/>
<circle cx="1706.4" cy="741.2" r="8.85" fill="#000"/>
<circle cx="1728" cy="741.2" r="8.85" fill="#000"/>
<circle cx="1749.6" cy="741.2" r="8.85" fill="#000"/>
<circle cx="1771.2" cy="790.16" r="8.85" fill="#000"/>
<circle cx="1792.8" cy="790.16" r="8.85" fill="#000"/>
<circle cx="1814.4" cy="855.68" r="8.85" fill="#000"/>
<circle cx="1836" cy="872.24" r="8.85" fill="#000"/>
<circle cx="1857.6" cy="905" r="8.85" fill="#000"/>
<circle cx="1879.2" cy="937.4" r="8.85" fill="#000"/>
<circle cx="1900.8" cy="970.16" r="8.85" fill="#000"/>
<circle cx="1922.4" cy="970.16" r="8.85" fill="#000"/>
<circle cx="1944" cy="1019.48" r="8.85" fill="#000"/>
</g>
</g>
<text x="389.4" y="56.9" font-size="34" text-anchor="middle">Wilt in inoculated leaf</text>
<text x="1055.2" y="56.7" font-size="33.9" text-anchor="middle">Wilt in second systemic leaf</text>
<text x="1679.5" y="56.9" font-size="34.3" text-anchor="middle">Plant death</text>
<text x="19.3" y="36.8" font-size="42.3" text-anchor="start">a)</text>
<text x="19.6" y="656.2" font-size="42.3" text-anchor="start">b)</text>
<g><path d="M377.4 136.9H415.2" stroke="#000000" stroke-width="4.1" stroke-linecap="round" fill="none"/>
<circle cx="396.3" cy="136.9" r="8.85" fill="#000"/>
</g>
<text x="438" y="149.8" font-size="34.7" text-anchor="start">Wt</text>
<g><path d="M375.4 188.3H414.1" stroke="#0433FF" stroke-width="5.4" stroke-linecap="round" fill="none"/>
<path d="M394.5 178.7L404.7 198.9L384.3 198.9Z" fill="#0433FF" stroke="#000" stroke-width="1.7"/>
</g>
<text x="434.8" y="200.7" font-size="34.7"><tspan font-size="36.44" textLength="28.23" lengthAdjust="spacingAndGlyphs" stroke="#000" stroke-width="0.6">Δ</tspan><tspan font-style="italic" dx="-1.58">exlx-gh5</tspan></text>
<g><path d="M372.9 238.5H411.2" stroke="#76D6FF" stroke-width="5.4" stroke-linecap="round" fill="none"/>
<path d="M392 228.9L402.2 249.1L381.8 249.1Z" fill="#76D6FF" stroke="#000" stroke-width="1.7"/>
</g>
<text x="431.8" y="250.7" font-size="34.7"><tspan font-size="36.44" textLength="28.23" lengthAdjust="spacingAndGlyphs" stroke="#000" stroke-width="0.6">Δ</tspan><tspan font-style="italic" dx="-1.58">exlx-gh5</tspan></text>
<text x="433" y="292.2" font-size="34.7" text-anchor="start">(cEXLX-GH5)</text>
<g><path d="M377.1 322.7H415.4" stroke="#FF2600" stroke-width="5.4" stroke-linecap="round" fill="none"/>
<rect x="389.1" y="315.4" width="14.6" height="14.6" fill="#FF2600" stroke="#000" stroke-width="1.7"/>
</g>
<text x="436.8" y="335.8" font-size="34.7"><tspan font-size="36.44" textLength="28.23" lengthAdjust="spacingAndGlyphs" stroke="#000" stroke-width="0.6">Δ</tspan><tspan font-style="italic" dx="-1.58">exlx</tspan></text>
<g><path d="M377.1 361.7H415.4" stroke="#FF9300" stroke-width="5.4" stroke-linecap="round" fill="none"/>
<rect x="389.1" y="354.4" width="14.6" height="14.6" fill="#FF9300" stroke="#000" stroke-width="1.7"/>
</g>
<text x="436.8" y="374.4" font-size="34.7"><tspan font-size="36.44" textLength="28.23" lengthAdjust="spacingAndGlyphs" stroke="#000" stroke-width="0.6">Δ</tspan><tspan font-style="italic" dx="-1.58">exlx</tspan> (cEXLX)</text>
<g><path d="M382 699.6H420" stroke="#000000" stroke-width="4.1" stroke-linecap="round" fill="none"/>
<circle cx="400.8" cy="699.6" r="8.85" fill="#000"/>
</g>
<text x="442" y="713.9" font-size="37" text-anchor="start">Wt</text>
<g><path d="M381.7 750.2H419.9" stroke="#008F00" stroke-width="5.4" stroke-linecap="round" fill="none"/>
<path d="M400.8 739.1L411.6 750.2L400.8 761.3L390 750.2Z" fill="#008F00" stroke="#000" stroke-width="1.7"/>
</g>
<text x="440.72" y="764.7" font-size="37"><tspan font-size="38.85" textLength="30.1" lengthAdjust="spacingAndGlyphs" stroke="#000" stroke-width="0.6">Δ</tspan><tspan font-style="italic" dx="-1.69">gh5</tspan></text>
<g><path d="M384.1 800.7H422.1" stroke="#00D420" stroke-width="5.4" stroke-linecap="round" fill="none"/>
<path d="M403.1 789.6L413.9 800.7L403.1 811.8L392.3 800.7Z" fill="#00D420" stroke="#000" stroke-width="1.7"/>
</g>
<text x="442.72" y="815.6" font-size="37"><tspan font-size="38.85" textLength="30.1" lengthAdjust="spacingAndGlyphs" stroke="#000" stroke-width="0.6">Δ</tspan><tspan font-style="italic" dx="-1.69">gh5</tspan></text>
<text x="444" y="858.4" font-size="37" text-anchor="start">(cEXLX-GH5)</text>
</svg>
</body></html>
